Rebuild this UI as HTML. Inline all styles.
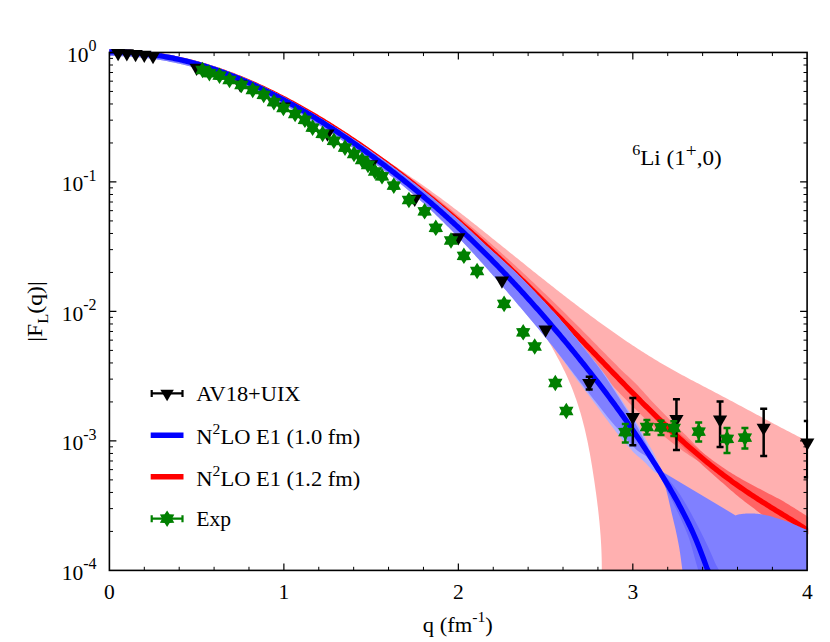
<!DOCTYPE html>
<html><head><meta charset="utf-8"><title>chart</title>
<style>html,body{margin:0;padding:0;background:#fff;}svg{display:block;}</style></head>
<body>
<svg width="830" height="642" viewBox="0 0 830 642">
<rect width="100%" height="100%" fill="#fff"/>
<defs><clipPath id="ax"><rect x="108.90" y="41.80" width="699.20" height="528.60"/></clipPath></defs>
<g clip-path="url(#ax)">
<path d="M384.58,159.41 L386.35,160.57 L388.12,161.73 L389.90,162.89 L391.67,164.05 L393.44,165.23 L395.21,166.40 L396.99,167.58 L398.76,168.76 L400.53,169.95 L402.31,171.14 L404.08,172.34 L405.85,173.54 L407.62,174.74 L409.40,175.95 L411.17,177.17 L412.94,178.39 L414.72,179.61 L416.49,180.84 L418.26,182.07 L420.03,183.31 L421.81,184.56 L423.58,185.80 L425.35,187.06 L427.13,188.32 L428.90,189.58 L430.67,190.85 L432.44,192.13 L434.22,193.41 L435.99,194.70 L437.76,195.99 L439.54,197.29 L441.31,198.60 L443.08,199.91 L444.86,201.22 L446.63,202.55 L448.40,203.87 L450.17,205.21 L451.95,206.55 L453.72,207.90 L455.49,209.25 L457.27,210.61 L459.04,211.98 L460.81,213.34 L462.58,214.72 L464.36,216.10 L466.13,217.48 L467.90,218.87 L469.68,220.26 L471.45,221.66 L473.22,223.06 L474.99,224.46 L476.77,225.87 L478.54,227.28 L480.31,228.69 L482.09,230.10 L483.86,231.52 L485.63,232.94 L487.40,234.36 L489.18,235.78 L490.95,237.20 L492.72,238.63 L494.50,240.05 L496.27,241.48 L498.04,242.90 L499.82,244.33 L501.59,245.76 L503.36,247.18 L505.13,248.61 L506.91,250.04 L508.68,251.47 L510.45,252.89 L512.23,254.32 L514.00,255.75 L515.77,257.17 L517.54,258.60 L519.32,260.02 L521.09,261.45 L522.86,262.87 L524.64,264.29 L526.41,265.71 L528.18,267.14 L529.95,268.55 L531.73,269.97 L533.50,271.39 L535.27,272.80 L537.05,274.22 L538.82,275.63 L540.59,277.04 L542.36,278.45 L544.14,279.85 L545.91,281.26 L547.68,282.66 L549.46,284.06 L551.23,285.46 L553.00,286.85 L554.78,288.24 L556.55,289.63 L558.32,291.02 L560.09,292.40 L561.87,293.79 L563.64,295.16 L565.41,296.54 L567.19,297.91 L568.96,299.28 L570.73,300.64 L572.50,302.01 L574.28,303.36 L576.05,304.72 L577.82,306.07 L579.60,307.42 L581.37,308.76 L583.14,310.10 L584.91,311.43 L586.69,312.76 L588.46,314.09 L590.23,315.41 L592.01,316.72 L593.78,318.04 L595.55,319.34 L597.32,320.64 L599.10,321.94 L600.87,323.23 L602.64,324.52 L604.42,325.80 L606.19,327.07 L607.96,328.34 L609.73,329.61 L611.51,330.86 L613.28,332.11 L615.05,333.36 L616.83,334.60 L618.60,335.83 L620.37,337.06 L622.15,338.27 L623.92,339.49 L625.69,340.69 L627.46,341.89 L629.24,343.08 L631.01,344.27 L632.78,345.44 L634.56,346.61 L636.33,347.77 L638.10,348.93 L639.87,350.07 L641.65,351.21 L643.42,352.34 L645.19,353.46 L646.97,354.58 L648.74,355.68 L650.51,356.78 L652.28,357.87 L654.06,358.95 L655.83,360.02 L657.60,361.08 L659.38,362.13 L661.15,363.17 L662.92,364.21 L664.69,365.24 L666.47,366.26 L668.24,367.27 L670.01,368.27 L671.79,369.27 L673.56,370.26 L675.33,371.24 L677.11,372.22 L678.88,373.19 L680.65,374.16 L682.42,375.13 L684.20,376.08 L685.97,377.04 L687.74,377.99 L689.52,378.93 L691.29,379.88 L693.06,380.82 L694.83,381.75 L696.61,382.69 L698.38,383.62 L700.15,384.55 L701.93,385.48 L703.70,386.41 L705.47,387.33 L707.24,388.26 L709.02,389.19 L710.79,390.12 L712.56,391.04 L714.34,391.97 L716.11,392.90 L717.88,393.83 L719.65,394.76 L721.43,395.70 L723.20,396.64 L724.97,397.58 L726.75,398.52 L728.52,399.46 L730.29,400.40 L732.07,401.35 L733.84,402.29 L735.61,403.24 L737.38,404.19 L739.16,405.14 L740.93,406.09 L742.70,407.04 L744.48,407.99 L746.25,408.95 L748.02,409.90 L749.79,410.85 L751.57,411.81 L753.34,412.76 L755.11,413.71 L756.89,414.66 L758.66,415.61 L760.43,416.56 L762.20,417.52 L763.98,418.46 L765.75,419.41 L767.52,420.36 L769.30,421.31 L771.07,422.25 L772.84,423.19 L774.61,424.14 L776.39,425.08 L778.16,426.01 L779.93,426.95 L781.71,427.88 L783.48,428.82 L785.25,429.74 L787.03,430.67 L788.80,431.59 L790.57,432.52 L792.34,433.43 L794.12,434.35 L795.89,435.26 L797.66,436.17 L799.44,437.08 L801.21,437.98 L802.98,438.88 L804.75,439.77 L806.53,440.66 L808.30,441.55 L808.30,570.40 L601.59,580.00 L601.64,578.04 L601.69,576.07 L601.73,574.11 L601.76,572.15 L601.77,570.18 L601.78,568.22 L601.78,566.26 L601.76,564.29 L601.74,562.33 L601.71,560.37 L601.67,558.40 L601.62,556.44 L601.56,554.47 L601.49,552.51 L601.42,550.55 L601.33,548.58 L601.24,546.62 L601.14,544.66 L601.03,542.69 L600.91,540.73 L600.78,538.77 L600.65,536.80 L600.51,534.84 L600.36,532.88 L600.21,530.91 L600.05,528.95 L599.88,526.99 L599.70,525.02 L599.52,523.06 L599.33,521.10 L599.13,519.13 L598.93,517.17 L598.73,515.21 L598.51,513.24 L598.29,511.28 L598.07,509.32 L597.84,507.35 L597.60,505.39 L597.36,503.42 L597.12,501.46 L596.87,499.50 L596.61,497.53 L596.35,495.57 L596.09,493.61 L595.82,491.64 L595.55,489.68 L595.27,487.72 L594.99,485.75 L594.71,483.79 L594.42,481.83 L594.13,479.86 L593.84,477.90 L593.54,475.94 L593.24,473.97 L592.93,472.01 L592.63,470.05 L592.31,468.08 L592.00,466.12 L591.68,464.16 L591.35,462.19 L591.02,460.23 L590.68,458.26 L590.34,456.30 L589.99,454.34 L589.63,452.37 L589.26,450.41 L588.89,448.45 L588.51,446.48 L588.12,444.52 L587.73,442.56 L587.32,440.59 L586.90,438.63 L586.48,436.67 L586.04,434.70 L585.60,432.74 L585.14,430.78 L584.68,428.81 L584.20,426.85 L583.71,424.89 L583.21,422.92 L582.69,420.96 L582.17,419.00 L581.63,417.03 L581.07,415.07 L580.51,413.11 L579.93,411.14 L579.33,409.18 L578.72,407.21 L578.10,405.25 L577.46,403.29 L576.80,401.32 L576.13,399.36 L575.44,397.40 L574.73,395.43 L574.01,393.47 L573.27,391.51 L572.52,389.54 L571.74,387.58 L570.95,385.62 L570.13,383.65 L569.30,381.69 L568.45,379.73 L567.58,377.76 L566.69,375.80 L565.78,373.84 L564.85,371.87 L563.90,369.91 L562.93,367.95 L561.95,365.98 L560.95,364.02 L559.94,362.05 L558.91,360.09 L557.87,358.13 L556.82,356.16 L555.76,354.20 L554.69,352.24 L553.61,350.27 L552.53,348.31 L551.43,346.35 L550.34,344.38 L549.23,342.42 L548.12,340.46 L547.01,338.49 L545.89,336.53 L544.77,334.57 L543.64,332.60 L542.50,330.64 L541.35,328.68 L540.19,326.71 L539.02,324.75 L537.84,322.79 L536.64,320.82 L535.42,318.86 L534.19,316.89 L532.94,314.93 L531.67,312.97 L530.39,311.00 L529.08,309.04 L527.74,307.08 L526.39,305.11 L525.01,303.15 L523.60,301.19 L522.17,299.22 L520.71,297.26 L519.22,295.30 L517.71,293.33 L516.17,291.37 L514.61,289.41 L513.01,287.44 L511.40,285.48 L509.76,283.52 L508.09,281.55 L506.40,279.59 L504.69,277.63 L502.95,275.66 L501.19,273.70 L499.41,271.74 L497.61,269.77 L495.79,267.81 L493.94,265.84 L492.07,263.88 L490.19,261.92 L488.28,259.95 L486.35,257.99 L484.41,256.03 L482.44,254.06 L480.46,252.10 L478.46,250.14 L476.44,248.17 L474.41,246.21 L472.35,244.25 L470.28,242.28 L468.20,240.32 L466.10,238.36 L463.98,236.39 L461.85,234.43 L459.71,232.47 L457.55,230.50 L455.37,228.54 L453.19,226.58 L450.99,224.61 L448.78,222.65 L446.55,220.68 L444.32,218.72 L442.07,216.76 L439.81,214.79 L437.55,212.83 L435.27,210.87 L432.98,208.90 L430.68,206.94 L428.38,204.98 L426.06,203.01 L423.74,201.05 L421.41,199.09 L419.07,197.12 L416.73,195.16 L414.37,193.20 L412.02,191.23 L409.65,189.27 L407.28,187.31 L404.91,185.34 L402.53,183.38 L400.15,181.42 L397.76,179.45 L395.37,177.49 L392.98,175.53 L390.58,173.56 L388.19,171.60 L385.79,169.63 L383.39,167.67 L380.98,165.71 L378.58,163.74 L376.18,161.78 L373.77,159.82 L371.37,157.85 L368.97,155.89 L366.57,153.93 L364.17,151.96 L361.78,150.00 Z" fill="#ffb0b0"/>
<path d="M109.40,51.80 L111.15,51.80 L112.91,51.80 L114.66,51.82 L116.42,51.85 L118.17,51.88 L119.93,51.93 L121.68,51.98 L123.44,52.04 L125.19,52.11 L126.95,52.20 L128.70,52.29 L130.46,52.39 L132.21,52.50 L133.97,52.62 L135.72,52.75 L137.48,52.88 L139.23,53.03 L140.99,53.19 L142.75,53.36 L144.50,53.53 L146.26,53.72 L148.02,53.91 L149.77,54.12 L151.53,54.33 L153.29,54.56 L155.04,54.79 L156.80,55.03 L158.56,55.28 L160.31,55.55 L162.07,55.82 L163.83,56.10 L165.59,56.39 L167.35,56.69 L169.10,57.00 L170.86,57.32 L172.62,57.65 L174.38,57.99 L176.14,58.34 L177.90,58.69 L179.66,59.06 L181.42,59.44 L183.18,59.83 L184.94,60.22 L186.70,60.63 L188.46,61.04 L190.22,61.47 L191.98,61.90 L193.74,62.35 L195.50,62.80 L197.26,63.26 L199.02,63.73 L200.78,64.22 L202.54,64.71 L204.31,65.21 L206.07,65.72 L207.83,66.24 L209.59,66.77 L211.35,67.30 L213.12,67.85 L214.88,68.41 L216.64,68.98 L218.41,69.55 L220.17,70.13 L221.93,70.73 L223.70,71.33 L225.46,71.94 L227.22,72.56 L228.99,73.19 L230.75,73.83 L232.52,74.48 L234.28,75.14 L236.04,75.80 L237.81,76.48 L239.57,77.16 L241.34,77.85 L243.10,78.55 L244.87,79.26 L246.64,79.98 L248.40,80.71 L250.17,81.44 L251.93,82.18 L253.70,82.94 L255.47,83.70 L257.23,84.46 L259.00,85.24 L260.77,86.03 L262.53,86.82 L264.30,87.62 L266.07,88.43 L267.83,89.25 L269.60,90.08 L271.37,90.91 L273.14,91.75 L274.90,92.60 L276.67,93.46 L278.44,94.33 L280.21,95.20 L281.98,96.08 L283.74,96.97 L285.51,97.87 L287.28,98.77 L289.05,99.68 L290.82,100.60 L292.59,101.53 L294.36,102.46 L296.13,103.40 L297.89,104.35 L299.66,105.30 L301.43,106.27 L303.20,107.24 L304.97,108.21 L306.74,109.20 L308.51,110.19 L310.28,111.19 L312.05,112.19 L313.82,113.20 L315.59,114.22 L317.36,115.25 L319.13,116.28 L320.90,117.32 L322.67,118.36 L324.44,119.41 L326.21,120.47 L327.99,121.54 L329.76,122.61 L331.53,123.69 L333.30,124.77 L335.07,125.86 L336.84,126.96 L338.61,128.06 L340.38,129.17 L342.15,130.29 L343.93,131.41 L345.70,132.54 L347.47,133.68 L349.24,134.82 L351.01,135.97 L352.78,137.12 L354.56,138.28 L356.33,139.44 L358.10,140.62 L359.87,141.79 L361.64,142.98 L363.42,144.17 L365.19,145.36 L366.96,146.56 L368.73,147.77 L370.51,148.98 L372.28,150.20 L374.05,151.43 L375.82,152.66 L377.60,153.89 L379.37,155.14 L381.14,156.38 L382.92,157.64 L384.69,158.90 L386.46,160.16 L388.24,161.43 L390.01,162.71 L391.79,163.99 L393.56,165.27 L395.34,166.57 L397.11,167.86 L398.89,169.17 L400.66,170.47 L402.44,171.79 L404.22,173.11 L405.99,174.43 L407.77,175.76 L409.55,177.09 L411.33,178.43 L413.10,179.78 L414.88,181.13 L416.66,182.49 L418.44,183.85 L420.22,185.22 L422.00,186.59 L423.78,187.97 L425.56,189.35 L427.34,190.74 L429.12,192.13 L430.90,193.53 L432.68,194.94 L434.46,196.35 L436.25,197.77 L438.03,199.19 L439.81,200.61 L441.59,202.05 L443.37,203.48 L445.16,204.93 L446.94,206.38 L448.72,207.83 L450.51,209.29 L452.29,210.76 L454.07,212.23 L455.86,213.71 L457.64,215.19 L459.43,216.67 L461.21,218.16 L463.00,219.66 L464.79,221.16 L466.58,222.67 L468.36,224.18 L470.15,225.70 L471.94,227.22 L473.73,228.75 L475.52,230.28 L477.31,231.82 L479.10,233.36 L480.89,234.91 L482.68,236.47 L484.48,238.03 L486.27,239.59 L488.06,241.16 L489.85,242.74 L491.64,244.32 L493.44,245.90 L495.23,247.50 L497.02,249.09 L498.81,250.70 L500.61,252.30 L502.40,253.92 L504.19,255.53 L505.99,257.16 L507.78,258.79 L509.57,260.42 L511.36,262.06 L513.16,263.70 L514.95,265.35 L516.74,267.01 L518.53,268.67 L520.32,270.33 L522.12,272.00 L523.91,273.68 L525.70,275.36 L527.49,277.04 L529.28,278.73 L531.07,280.43 L532.87,282.12 L534.66,283.82 L536.45,285.53 L538.24,287.24 L540.04,288.95 L541.83,290.67 L543.62,292.39 L545.42,294.12 L547.21,295.85 L549.00,297.58 L550.79,299.32 L552.58,301.06 L554.38,302.81 L556.17,304.55 L557.96,306.31 L559.75,308.06 L561.54,309.82 L563.33,311.58 L565.12,313.35 L566.91,315.12 L568.70,316.89 L570.48,318.66 L572.27,320.44 L574.05,322.22 L575.84,324.00 L577.62,325.79 L579.41,327.57 L581.19,329.36 L582.97,331.16 L584.75,332.95 L586.53,334.75 L588.30,336.55 L590.08,338.36 L591.85,340.16 L593.62,341.97 L595.39,343.77 L597.17,345.58 L598.94,347.38 L600.71,349.19 L602.48,351.00 L604.25,352.80 L606.03,354.60 L607.80,356.40 L609.58,358.20 L611.35,360.00 L613.13,361.79 L614.91,363.58 L616.69,365.37 L618.47,367.15 L620.26,368.92 L622.05,370.69 L623.87,372.43 L625.71,374.15 L627.55,375.86 L629.39,377.57 L631.22,379.28 L633.03,381.00 L634.83,382.74 L636.58,384.52 L638.31,386.31 L640.01,388.13 L641.70,389.96 L643.36,391.80 L645.02,393.65 L646.67,395.50 L648.32,397.34 L649.97,399.18 L651.63,401.00 L653.30,402.81 L654.99,404.59 L656.69,406.35 L658.39,408.11 L660.10,409.85 L661.80,411.59 L663.51,413.32 L665.22,415.03 L666.94,416.74 L668.65,418.44 L670.36,420.13 L672.07,421.82 L673.78,423.49 L675.49,425.17 L677.19,426.83 L678.89,428.50 L680.58,430.15 L682.27,431.81 L683.96,433.46 L685.63,435.11 L687.29,436.77 L688.93,438.44 L690.56,440.11 L692.19,441.79 L693.80,443.46 L695.40,445.14 L697.00,446.81 L698.60,448.48 L700.20,450.14 L701.80,451.78 L703.39,453.42 L704.96,455.10 L706.49,456.80 L708.02,458.50 L709.55,460.18 L711.12,461.81 L712.75,463.37 L714.44,464.83 L716.19,466.21 L717.93,467.58 L719.68,468.94 L721.42,470.29 L723.17,471.63 L724.92,472.95 L726.66,474.27 L728.41,475.57 L730.15,476.86 L731.90,478.14 L733.64,479.41 L735.39,480.67 L737.13,481.92 L738.88,483.15 L740.62,484.38 L742.37,485.59 L744.12,486.80 L745.86,487.99 L747.61,489.18 L749.35,490.35 L751.10,491.52 L752.85,492.68 L754.59,493.83 L756.34,494.97 L758.09,496.10 L759.83,497.23 L761.58,498.34 L763.33,499.46 L765.08,500.56 L766.83,501.66 L768.58,502.76 L770.33,503.85 L772.08,504.93 L773.83,506.02 L775.58,507.10 L777.33,508.17 L779.09,509.25 L780.84,510.33 L782.59,511.40 L784.35,512.48 L786.10,513.56 L787.86,514.64 L789.62,515.72 L791.38,516.81 L793.13,517.90 L794.89,519.00 L796.66,520.11 L798.42,521.23 L800.18,522.36 L801.94,523.49 L803.71,524.64 L805.47,525.80 L807.56,527.23 L809.60,529.63 L811.40,532.11 L807.20,535.17 L805.50,532.82 L804.02,531.05 L802.60,530.14 L800.86,528.99 L799.12,527.86 L797.37,526.73 L795.63,525.62 L793.88,524.51 L792.13,523.41 L790.38,522.32 L788.63,521.23 L786.88,520.14 L785.13,519.06 L783.38,517.99 L781.63,516.91 L779.87,515.83 L778.12,514.76 L776.37,513.68 L774.61,512.60 L772.85,511.52 L771.10,510.44 L769.34,509.35 L767.58,508.26 L765.82,507.17 L764.06,506.07 L762.31,504.96 L760.55,503.85 L758.79,502.73 L757.03,501.60 L755.26,500.47 L753.50,499.33 L751.74,498.18 L749.98,497.02 L748.22,495.85 L746.46,494.67 L744.69,493.49 L742.93,492.29 L741.17,491.08 L739.41,489.87 L737.64,488.64 L735.88,487.40 L734.12,486.15 L732.36,484.89 L730.59,483.62 L728.83,482.34 L727.07,481.05 L725.30,479.74 L723.54,478.43 L721.78,477.10 L720.02,475.76 L718.25,474.41 L716.49,473.05 L714.73,471.68 L712.97,470.29 L711.20,468.90 L709.38,467.57 L707.46,466.34 L705.48,465.17 L703.46,464.04 L701.42,462.92 L699.39,461.77 L697.39,460.57 L695.43,459.30 L693.47,458.03 L691.50,456.74 L689.54,455.43 L687.58,454.12 L685.62,452.78 L683.67,451.43 L681.73,450.05 L679.80,448.65 L677.87,447.23 L675.97,445.78 L674.07,444.31 L672.18,442.82 L670.28,441.33 L668.39,439.82 L666.50,438.31 L664.61,436.77 L662.74,435.22 L660.88,433.65 L659.03,432.05 L657.20,430.42 L655.39,428.77 L653.61,427.09 L651.84,425.38 L650.07,423.66 L648.30,421.94 L646.53,420.21 L644.77,418.48 L643.00,416.74 L641.24,414.99 L639.47,413.24 L637.70,411.49 L635.94,409.72 L634.18,407.96 L632.41,406.19 L630.65,404.41 L628.89,402.63 L627.12,400.85 L625.36,399.06 L623.60,397.27 L621.84,395.47 L620.09,393.67 L618.34,391.85 L616.60,390.03 L614.86,388.20 L613.13,386.37 L611.41,384.53 L609.68,382.68 L607.97,380.83 L606.25,378.97 L604.54,377.10 L602.83,375.24 L601.13,373.37 L599.43,371.49 L597.73,369.62 L596.03,367.74 L594.33,365.86 L592.64,363.98 L590.95,362.10 L589.25,360.22 L587.56,358.33 L585.87,356.45 L584.17,354.57 L582.48,352.69 L580.79,350.82 L579.09,348.94 L577.39,347.07 L575.70,345.20 L573.99,343.34 L572.29,341.48 L570.58,339.62 L568.88,337.77 L567.17,335.92 L565.46,334.08 L563.75,332.23 L562.04,330.39 L560.33,328.55 L558.62,326.72 L556.91,324.88 L555.20,323.05 L553.49,321.22 L551.78,319.40 L550.07,317.58 L548.36,315.76 L546.65,313.95 L544.94,312.14 L543.23,310.33 L541.51,308.53 L539.80,306.73 L538.09,304.93 L536.38,303.14 L534.67,301.36 L532.96,299.57 L531.25,297.80 L529.53,296.02 L527.82,294.25 L526.11,292.49 L524.40,290.73 L522.68,288.97 L520.97,287.22 L519.26,285.47 L517.54,283.73 L515.83,281.99 L514.11,280.26 L512.40,278.54 L510.69,276.81 L508.97,275.10 L507.26,273.38 L505.54,271.67 L503.83,269.97 L502.11,268.27 L500.40,266.58 L498.69,264.89 L496.97,263.21 L495.25,261.54 L493.54,259.86 L491.82,258.20 L490.11,256.54 L488.39,254.88 L486.68,253.23 L484.96,251.59 L483.24,249.95 L481.53,248.31 L479.81,246.69 L478.09,245.06 L476.37,243.45 L474.66,241.84 L472.94,240.23 L471.22,238.63 L469.50,237.04 L467.78,235.45 L466.06,233.87 L464.34,232.29 L462.62,230.72 L460.90,229.15 L459.18,227.59 L457.45,226.04 L455.73,224.49 L454.01,222.95 L452.29,221.41 L450.56,219.88 L448.84,218.36 L447.11,216.84 L445.39,215.33 L443.67,213.82 L441.94,212.32 L440.21,210.83 L438.49,209.34 L436.76,207.85 L435.04,206.38 L433.31,204.90 L431.58,203.44 L429.86,201.98 L428.13,200.52 L426.40,199.07 L424.68,197.63 L422.95,196.19 L421.22,194.76 L419.49,193.33 L417.76,191.91 L416.04,190.49 L414.31,189.08 L412.58,187.68 L410.85,186.28 L409.12,184.89 L407.39,183.50 L405.66,182.12 L403.93,180.75 L402.20,179.38 L400.46,178.02 L398.73,176.66 L397.00,175.31 L395.27,173.96 L393.54,172.62 L391.80,171.29 L390.07,169.96 L388.34,168.64 L386.60,167.32 L384.87,166.01 L383.14,164.71 L381.40,163.41 L379.67,162.12 L377.93,160.83 L376.20,159.55 L374.46,158.28 L372.72,157.01 L370.99,155.75 L369.25,154.49 L367.52,153.24 L365.78,151.99 L364.05,150.75 L362.31,149.52 L360.57,148.29 L358.84,147.07 L357.10,145.85 L355.37,144.64 L353.63,143.44 L351.89,142.24 L350.16,141.05 L348.42,139.86 L346.68,138.68 L344.95,137.51 L343.21,136.34 L341.47,135.18 L339.74,134.02 L338.00,132.87 L336.26,131.73 L334.53,130.59 L332.79,129.46 L331.05,128.34 L329.32,127.22 L327.58,126.11 L325.84,125.00 L324.10,123.91 L322.37,122.81 L320.63,121.73 L318.89,120.65 L317.15,119.58 L315.41,118.51 L313.68,117.46 L311.94,116.40 L310.20,115.36 L308.46,114.32 L306.72,113.29 L304.98,112.27 L303.25,111.25 L301.51,110.24 L299.77,109.24 L298.03,108.24 L296.29,107.25 L294.55,106.27 L292.81,105.30 L291.07,104.33 L289.33,103.37 L287.59,102.42 L285.85,101.48 L284.11,100.54 L282.38,99.61 L280.64,98.69 L278.89,97.78 L277.15,96.87 L275.41,95.97 L273.67,95.08 L271.93,94.20 L270.19,93.32 L268.45,92.46 L266.71,91.60 L264.97,90.75 L263.23,89.91 L261.49,89.07 L259.75,88.25 L258.00,87.43 L256.26,86.62 L254.52,85.82 L252.78,85.03 L251.04,84.24 L249.29,83.47 L247.55,82.70 L245.81,81.94 L244.07,81.19 L242.32,80.45 L240.58,79.72 L238.84,79.00 L237.09,78.28 L235.35,77.58 L233.61,76.88 L231.86,76.19 L230.12,75.51 L228.38,74.84 L226.63,74.18 L224.89,73.53 L223.14,72.89 L221.40,72.26 L219.65,71.63 L217.91,71.02 L216.16,70.41 L214.42,69.82 L212.67,69.23 L210.93,68.65 L209.18,68.09 L207.43,67.53 L205.69,66.98 L203.94,66.44 L202.19,65.91 L200.45,65.39 L198.70,64.88 L196.95,64.38 L195.21,63.89 L193.46,63.41 L191.71,62.93 L189.96,62.47 L188.22,62.02 L186.47,61.58 L184.72,61.14 L182.97,60.72 L181.22,60.31 L179.47,59.90 L177.72,59.51 L175.97,59.12 L174.23,58.75 L172.48,58.38 L170.73,58.03 L168.98,57.68 L167.23,57.35 L165.48,57.02 L163.73,56.71 L161.98,56.40 L160.23,56.11 L158.47,55.82 L156.72,55.55 L154.97,55.28 L153.22,55.02 L151.47,54.78 L149.72,54.54 L147.97,54.31 L146.22,54.10 L144.46,53.89 L142.71,53.69 L140.96,53.50 L139.21,53.33 L137.45,53.16 L135.70,53.00 L133.95,52.85 L132.20,52.71 L130.44,52.59 L128.69,52.47 L126.94,52.36 L125.18,52.26 L123.43,52.17 L121.68,52.09 L119.92,52.02 L118.17,51.96 L116.42,51.91 L114.66,51.87 L112.91,51.83 L111.15,51.81 L109.40,51.80 Z" fill="#ff8080"/>
<path d="M640.91,397.74 L642.67,399.49 L644.44,401.23 L646.20,402.96 L647.97,404.69 L649.73,406.41 L651.50,408.13 L653.27,409.84 L655.05,411.52 L656.83,413.20 L658.63,414.85 L660.43,416.50 L662.24,418.13 L664.05,419.74 L665.87,421.35 L667.69,422.94 L669.51,424.52 L671.33,426.10 L673.15,427.66 L674.96,429.22 L676.77,430.78 L678.58,432.33 L680.38,433.87 L682.18,435.41 L683.96,436.95 L685.75,438.49 L687.53,440.01 L689.30,441.53 L691.08,443.04 L692.85,444.54 L694.63,446.03 L696.40,447.51 L698.18,448.97 L699.96,450.42 L701.73,451.86 L703.52,453.28 L705.30,454.68 L707.09,456.08 L708.88,457.45 L710.67,458.81 L712.46,460.16 L714.25,461.49 L716.05,462.80 L717.86,464.09 L719.67,465.37 L721.48,466.62 L723.30,467.85 L725.12,469.07 L726.95,470.27 L728.77,471.45 L730.61,472.61 L732.44,473.75 L734.29,474.87 L736.14,475.96 L738.00,477.03 L739.85,478.09 L741.71,479.14 L743.56,480.18 L745.40,481.22 L747.25,482.24 L749.10,483.24 L750.95,484.23 L752.80,485.22 L754.64,486.20 L756.48,487.17 L758.32,488.14 L760.15,489.11 L761.98,490.08 L763.80,491.05 L765.62,492.01 L767.45,492.96 L769.28,493.90 L771.11,494.84 L772.94,495.77 L774.76,496.71 L776.58,497.66 L778.40,498.62 L780.20,499.59 L782.00,500.59 L783.78,501.61 L785.54,502.65 L787.30,503.73 L789.06,504.81 L790.82,505.89 L792.58,506.98 L794.35,508.07 L796.11,509.18 L797.88,510.29 L799.66,511.41 L801.43,512.55 L803.21,513.70 L804.98,514.87 L806.76,516.06 L808.54,517.26 L810.32,518.49 L813.49,520.84 L816.43,524.29 L818.36,527.05 L800.00,540.40 L798.48,538.30 L797.97,537.57 L797.69,537.56 L795.98,536.44 L794.28,535.33 L792.56,534.22 L790.85,533.12 L789.13,532.03 L787.40,530.95 L785.67,529.87 L783.94,528.79 L782.20,527.71 L780.46,526.64 L778.72,525.57 L776.97,524.49 L775.22,523.42 L773.47,522.34 L771.72,521.24 L769.99,520.11 L768.27,518.96 L766.56,517.78 L764.86,516.58 L763.17,515.37 L761.47,514.14 L759.78,512.89 L758.09,511.64 L756.40,510.38 L754.71,509.12 L753.01,507.86 L751.31,506.59 L749.61,505.31 L747.91,504.02 L746.21,502.72 L744.52,501.40 L742.83,500.07 L741.15,498.73 L739.46,497.38 L737.78,496.01 L736.10,494.63 L734.43,493.24 L732.76,491.83 L731.10,490.40 L729.44,488.95 L727.79,487.50 L726.14,486.03 L724.48,484.57 L722.81,483.10 L721.13,481.64 L719.46,480.17 L717.78,478.70 L716.10,477.22 L714.41,475.73 L712.73,474.24 L711.04,472.74 L709.34,471.23 L707.65,469.72 L705.95,468.20 L704.26,466.68 L702.56,465.14 L700.85,463.61 L699.15,462.06 L697.44,460.51 L695.72,458.95 L694.01,457.39 L692.29,455.82 L690.57,454.24 L688.85,452.66 L687.13,451.07 L685.40,449.46 L683.68,447.85 L681.96,446.23 L680.24,444.60 L678.53,442.95 L676.81,441.30 L675.11,439.63 L673.41,437.94 L671.71,436.24 L670.01,434.53 L668.32,432.82 L666.63,431.09 L664.94,429.35 L663.25,427.61 L661.56,425.86 L659.86,424.11 L658.17,422.35 L656.46,420.60 L654.76,418.84 L653.04,417.08 L651.32,415.33 L649.59,413.57 L647.85,411.82 L646.11,410.07 L644.36,408.32 L642.62,406.55 L640.88,404.79 Z" fill="#ff6464"/>
<path d="M109.40,51.80 L111.15,51.80 L112.91,51.82 L114.66,51.84 L116.42,51.88 L118.17,51.92 L119.92,51.97 L121.68,52.03 L123.43,52.10 L125.19,52.19 L126.94,52.28 L128.70,52.38 L130.45,52.49 L132.20,52.61 L133.96,52.73 L135.71,52.87 L137.47,53.02 L139.22,53.18 L140.97,53.35 L142.73,53.52 L144.48,53.71 L146.24,53.91 L147.99,54.11 L149.75,54.33 L151.50,54.55 L153.25,54.79 L155.01,55.03 L156.76,55.29 L158.52,55.55 L160.27,55.83 L162.02,56.11 L163.78,56.40 L165.53,56.71 L167.29,57.02 L169.04,57.34 L170.79,57.67 L172.55,58.02 L174.30,58.37 L176.06,58.73 L177.81,59.10 L179.57,59.48 L181.32,59.87 L183.07,60.27 L184.83,60.68 L186.58,61.10 L188.34,61.53 L190.09,61.97 L191.84,62.42 L193.60,62.88 L195.35,63.34 L197.11,63.82 L198.86,64.31 L200.62,64.80 L202.37,65.31 L204.12,65.82 L205.88,66.35 L207.63,66.88 L209.39,67.43 L211.14,67.98 L212.89,68.54 L214.65,69.11 L216.40,69.69 L218.16,70.28 L219.91,70.88 L221.66,71.49 L223.42,72.11 L225.17,72.74 L226.93,73.37 L228.68,74.02 L230.44,74.67 L232.19,75.34 L233.94,76.01 L235.70,76.69 L237.45,77.38 L239.21,78.08 L240.96,78.79 L242.71,79.50 L244.47,80.23 L246.22,80.96 L247.98,81.70 L249.73,82.45 L251.48,83.21 L253.24,83.98 L254.99,84.76 L256.75,85.54 L258.50,86.34 L260.26,87.14 L262.01,87.95 L263.76,88.76 L265.52,89.59 L267.27,90.42 L269.03,91.27 L270.78,92.12 L272.53,92.98 L274.29,93.84 L276.04,94.72 L277.80,95.60 L279.55,96.49 L281.31,97.38 L283.06,98.29 L284.81,99.20 L286.57,100.12 L288.32,101.05 L290.08,101.99 L291.83,102.93 L293.58,103.88 L295.34,104.84 L297.09,105.80 L298.85,106.77 L300.60,107.75 L302.35,108.74 L304.11,109.73 L305.86,110.73 L307.62,111.74 L309.37,112.75 L311.13,113.77 L312.88,114.80 L314.63,115.84 L316.39,116.88 L318.14,117.93 L319.90,118.98 L321.65,120.05 L323.40,121.11 L325.16,122.19 L326.91,123.27 L328.67,124.36 L330.42,125.45 L332.18,126.56 L333.93,127.66 L335.68,128.78 L337.44,129.90 L339.19,131.02 L340.95,132.16 L342.70,133.30 L344.45,134.44 L346.21,135.59 L347.96,136.75 L349.72,137.91 L351.47,139.08 L353.22,140.26 L354.98,141.44 L356.73,142.63 L358.49,143.82 L360.24,145.02 L362.00,146.23 L363.75,147.44 L365.50,148.66 L367.26,149.88 L369.01,151.11 L370.77,152.35 L372.52,153.59 L374.27,154.83 L376.03,156.09 L377.78,157.34 L379.54,158.61 L381.29,159.88 L383.05,161.15 L384.80,162.44 L386.55,163.72 L388.31,165.02 L390.06,166.31 L391.82,167.62 L393.57,168.93 L395.32,170.24 L397.08,171.56 L398.83,172.89 L400.59,174.22 L402.34,175.56 L404.09,176.90 L405.85,178.25 L407.60,179.61 L409.36,180.97 L411.11,182.33 L412.87,183.71 L414.62,185.08 L416.37,186.47 L418.13,187.85 L419.88,189.25 L421.64,190.65 L423.39,192.05 L425.14,193.46 L426.90,194.88 L428.65,196.30 L430.41,197.73 L432.16,199.16 L433.92,200.60 L435.67,202.05 L437.42,203.49 L439.18,204.95 L440.93,206.41 L442.69,207.88 L444.44,209.35 L446.19,210.83 L447.95,212.31 L449.70,213.80 L451.46,215.30 L453.21,216.80 L454.96,218.30 L456.72,219.81 L458.47,221.33 L460.23,222.85 L461.98,224.38 L463.74,225.91 L465.49,227.45 L467.24,229.00 L469.00,230.55 L470.75,232.10 L472.51,233.66 L474.26,235.23 L476.01,236.80 L477.77,238.38 L479.52,239.96 L481.28,241.55 L483.03,243.15 L484.78,244.75 L486.54,246.35 L488.29,247.96 L490.05,249.58 L491.80,251.20 L493.56,252.83 L495.31,254.46 L497.06,256.09 L498.82,257.74 L500.57,259.38 L502.33,261.04 L504.08,262.69 L505.83,264.36 L507.59,266.02 L509.34,267.70 L511.10,269.37 L512.85,271.06 L514.61,272.75 L516.36,274.44 L518.11,276.14 L519.87,277.84 L521.62,279.54 L523.38,281.26 L525.13,282.97 L526.88,284.69 L528.64,286.42 L530.39,288.15 L532.15,289.88 L533.90,291.62 L535.65,293.36 L537.41,295.11 L539.16,296.86 L540.92,298.61 L542.67,300.37 L544.43,302.13 L546.18,303.90 L547.93,305.67 L549.69,307.44 L551.44,309.22 L553.20,311.00 L554.95,312.78 L556.70,314.57 L558.46,316.35 L560.21,318.15 L561.97,319.94 L563.72,321.74 L565.48,323.54 L567.23,325.34 L568.98,327.14 L570.74,328.95 L572.49,330.76 L574.25,332.57 L576.00,334.38 L577.75,336.20 L579.51,338.01 L581.26,339.83 L583.02,341.65 L584.77,343.47 L586.52,345.29 L588.28,347.11 L590.03,348.93 L591.79,350.76 L593.54,352.58 L595.30,354.40 L597.05,356.22 L598.80,358.05 L600.56,359.87 L602.31,361.69 L604.07,363.51 L605.82,365.33 L607.57,367.15 L609.33,368.97 L611.08,370.78 L612.84,372.60 L614.59,374.41 L616.35,376.22 L618.10,378.03 L619.85,379.84 L621.61,381.64 L623.36,383.44 L625.12,385.24 L626.87,387.03 L628.62,388.82 L630.38,390.61 L632.13,392.40 L633.89,394.18 L635.64,395.95 L637.39,397.72 L639.15,399.49 L640.90,401.25 L642.66,403.01 L644.41,404.76 L646.17,406.50 L647.92,408.24 L649.67,409.98 L651.43,411.70 L653.18,413.43 L654.94,415.14 L656.69,416.85 L658.44,418.55 L660.20,420.25 L661.95,421.93 L663.71,423.61 L665.46,425.28 L667.22,426.95 L668.97,428.60 L670.72,430.25 L672.48,431.89 L674.23,433.52 L675.99,435.14 L677.74,436.75 L679.49,438.36 L681.25,439.95 L683.00,441.53 L684.76,443.11 L686.51,444.67 L688.26,446.23 L690.02,447.77 L691.77,449.30 L693.53,450.83 L695.28,452.34 L697.04,453.84 L698.79,455.33 L700.54,456.81 L702.30,458.28 L704.05,459.74 L705.81,461.19 L707.56,462.62 L709.31,464.05 L711.07,465.46 L712.82,466.86 L714.58,468.25 L716.33,469.63 L718.08,471.00 L719.84,472.35 L721.59,473.70 L723.35,475.03 L725.10,476.35 L726.86,477.66 L728.61,478.95 L730.36,480.24 L732.12,481.52 L733.87,482.78 L735.63,484.03 L737.38,485.28 L739.13,486.51 L740.89,487.73 L742.64,488.94 L744.40,490.14 L746.15,491.33 L747.91,492.51 L749.66,493.68 L751.41,494.85 L753.17,496.00 L754.92,497.15 L756.68,498.28 L758.43,499.41 L760.18,500.54 L761.94,501.65 L763.69,502.76 L765.45,503.86 L767.20,504.96 L768.95,506.05 L770.71,507.14 L772.46,508.23 L774.22,509.31 L775.97,510.39 L777.73,511.47 L779.48,512.54 L781.23,513.62 L782.99,514.69 L784.74,515.77 L786.50,516.85 L788.25,517.93 L790.00,519.02 L791.76,520.11 L793.51,521.21 L795.27,522.31 L797.02,523.42 L798.78,524.54 L800.53,525.67 L802.28,526.82 L804.04,527.97 L805.79,529.14 L807.55,531.23 L809.30,533.64" fill="none" stroke="#f00" stroke-width="5.3"/>
<path d="M109.41,49.20 L110.93,49.20 L112.47,49.21 L114.00,49.23 L115.53,49.26 L117.06,49.29 L118.60,49.33 L120.13,49.38 L121.66,49.43 L123.19,49.50 L124.73,49.56 L126.26,49.64 L127.79,49.72 L129.32,49.82 L130.86,49.91 L132.39,50.02 L133.92,50.13 L135.45,50.25 L136.99,50.38 L138.52,50.51 L140.05,50.66 L141.59,50.81 L143.12,50.96 L144.65,51.13 L146.18,51.30 L147.72,51.48 L149.25,51.67 L150.78,51.86 L152.31,52.06 L153.85,52.27 L155.38,52.49 L156.91,52.71 L158.44,52.94 L159.98,53.18 L161.51,53.43 L163.04,53.68 L164.57,53.94 L166.11,54.21 L167.64,54.49 L169.17,54.78 L170.71,55.07 L172.24,55.37 L173.77,55.68 L175.30,55.99 L176.84,56.31 L178.37,56.64 L179.90,56.98 L181.43,57.33 L182.96,57.68 L184.50,58.04 L186.03,58.41 L187.56,58.79 L189.09,59.17 L190.63,59.56 L192.16,59.96 L193.69,60.37 L195.22,60.78 L196.75,61.20 L198.28,61.63 L199.82,62.07 L201.35,62.51 L202.88,62.97 L204.41,63.42 L205.94,63.89 L207.47,64.37 L209.01,64.85 L210.54,65.34 L212.07,65.83 L213.60,66.34 L215.13,66.85 L216.66,67.37 L218.19,67.90 L219.72,68.43 L221.25,68.97 L222.78,69.52 L224.31,70.08 L225.85,70.64 L227.38,71.21 L228.91,71.79 L230.44,72.37 L231.97,72.96 L233.50,73.56 L235.03,74.16 L236.56,74.78 L238.09,75.40 L239.62,76.02 L241.15,76.66 L242.67,77.30 L244.20,77.94 L245.73,78.60 L247.26,79.26 L248.79,79.93 L250.32,80.60 L251.85,81.28 L253.38,81.97 L254.91,82.66 L256.44,83.36 L257.96,84.07 L259.49,84.78 L261.02,85.50 L262.55,86.23 L264.08,86.96 L265.61,87.70 L267.13,88.45 L268.66,89.20 L270.19,89.95 L271.72,90.72 L273.25,91.49 L274.77,92.26 L276.30,93.05 L277.83,93.83 L279.36,94.63 L280.88,95.43 L282.41,96.23 L283.94,97.05 L285.47,97.86 L286.99,98.69 L288.52,99.52 L290.05,100.35 L291.57,101.19 L293.10,102.04 L294.63,102.89 L296.15,103.75 L297.68,104.61 L299.21,105.48 L300.73,106.35 L302.26,107.23 L303.79,108.11 L305.31,109.00 L306.84,109.89 L308.37,110.79 L309.90,111.68 L311.44,112.59 L312.97,113.49 L314.50,114.40 L316.03,115.32 L317.57,116.24 L319.10,117.16 L320.64,118.09 L322.17,119.02 L323.71,119.96 L325.24,120.90 L326.78,121.85 L328.32,122.80 L329.85,123.76 L331.39,124.72 L332.93,125.68 L334.47,126.65 L336.00,127.63 L337.54,128.61 L339.08,129.60 L340.61,130.59 L342.15,131.58 L343.69,132.58 L345.23,133.59 L346.76,134.60 L348.30,135.61 L349.84,136.63 L351.38,137.65 L352.92,138.68 L354.46,139.71 L356.00,140.75 L357.54,141.79 L359.08,142.83 L360.62,143.88 L362.17,144.94 L363.71,145.99 L365.25,147.06 L366.79,148.12 L368.34,149.20 L369.88,150.27 L371.42,151.35 L372.97,152.44 L374.51,153.53 L376.05,154.63 L377.60,155.73 L379.14,156.83 L380.69,157.95 L382.23,159.06 L383.77,160.18 L385.32,161.31 L386.86,162.44 L388.41,163.57 L389.96,164.71 L391.50,165.86 L393.05,167.00 L394.59,168.16 L396.14,169.32 L397.69,170.48 L399.24,171.65 L400.78,172.82 L402.33,174.00 L403.88,175.18 L405.43,176.37 L406.98,177.57 L408.53,178.76 L410.08,179.97 L411.63,181.18 L413.18,182.39 L414.73,183.61 L416.28,184.83 L417.83,186.06 L419.38,187.29 L420.93,188.53 L422.48,189.78 L424.04,191.03 L425.59,192.28 L427.14,193.54 L428.70,194.80 L430.25,196.07 L431.81,197.34 L433.37,198.62 L434.92,199.91 L436.48,201.20 L438.04,202.49 L439.60,203.79 L441.15,205.10 L442.71,206.41 L444.27,207.72 L445.83,209.05 L447.39,210.38 L448.95,211.71 L450.51,213.05 L452.06,214.40 L453.62,215.75 L455.18,217.11 L456.73,218.48 L458.29,219.86 L459.85,221.24 L461.40,222.62 L462.95,224.02 L464.50,225.42 L466.05,226.83 L467.60,228.25 L469.15,229.67 L470.70,231.10 L472.25,232.53 L473.80,233.97 L475.36,235.42 L476.91,236.86 L478.47,238.32 L480.02,239.77 L481.58,241.23 L483.15,242.70 L484.72,244.16 L486.29,245.63 L487.88,247.08 L489.47,248.54 L491.08,249.99 L492.69,251.45 L494.30,252.90 L495.93,254.36 L497.56,255.81 L499.19,257.27 L500.82,258.74 L502.45,260.21 L504.09,261.68 L505.72,263.17 L507.36,264.66 L508.99,266.16 L510.61,267.67 L512.23,269.20 L513.85,270.73 L515.45,272.28 L517.05,273.84 L518.64,275.42 L520.23,277.01 L521.81,278.60 L523.40,280.20 L524.99,281.81 L526.58,283.42 L528.16,285.04 L529.75,286.66 L531.33,288.29 L532.92,289.93 L534.50,291.58 L536.09,293.23 L537.67,294.89 L539.25,296.55 L540.84,298.22 L542.42,299.90 L543.99,301.59 L545.57,303.28 L547.15,304.98 L548.72,306.69 L550.29,308.41 L551.86,310.13 L553.43,311.87 L555.00,313.61 L556.56,315.35 L558.12,317.11 L559.68,318.87 L561.23,320.65 L562.79,322.43 L564.34,324.22 L565.88,326.01 L567.43,327.82 L568.97,329.64 L570.50,331.46 L572.04,333.30 L573.57,335.14 L575.10,336.98 L576.63,338.84 L578.16,340.70 L579.69,342.56 L581.23,344.44 L582.76,346.32 L584.29,348.20 L585.82,350.09 L587.35,351.99 L588.88,353.90 L590.41,355.81 L591.95,357.73 L593.48,359.65 L595.01,361.58 L596.54,363.52 L598.07,365.47 L599.60,367.42 L601.14,369.39 L602.64,371.38 L604.12,373.40 L605.57,375.44 L606.99,377.52 L608.40,379.61 L609.80,381.73 L611.19,383.85 L612.57,385.99 L613.95,388.14 L615.34,390.29 L616.73,392.44 L618.14,394.59 L619.56,396.75 L620.96,398.92 L622.37,401.10 L623.79,403.29 L625.22,405.47 L626.66,407.66 L628.11,409.85 L629.56,412.05 L631.02,414.26 L632.47,416.49 L633.92,418.73 L635.36,420.99 L636.78,423.27 L638.18,425.59 L639.53,427.95 L640.84,430.35 L642.14,432.76 L643.47,435.18 L644.82,437.60 L646.17,440.02 L647.54,442.46 L648.92,444.90 L650.31,447.36 L651.70,449.83 L653.08,452.32 L654.43,454.85 L655.72,457.39 L656.97,459.95 L658.21,462.53 L659.46,465.10 L660.69,467.69 L661.93,470.29 L656.68,473.60 L654.23,471.77 L652.06,469.79 L650.01,467.73 L648.03,465.63 L646.04,463.52 L643.96,461.47 L641.77,459.50 L639.53,457.62 L637.29,455.76 L635.14,453.86 L633.16,451.88 L631.30,449.84 L629.46,447.81 L627.65,445.78 L625.86,443.74 L624.10,441.71 L622.36,439.67 L620.67,437.63 L619.00,435.57 L617.37,433.51 L615.78,431.43 L614.20,429.36 L612.63,427.29 L611.07,425.23 L609.51,423.17 L607.97,421.12 L606.43,419.07 L604.90,417.03 L603.39,414.98 L601.89,412.93 L600.39,410.90 L598.90,408.87 L597.40,406.84 L595.91,404.83 L594.41,402.82 L592.92,400.82 L591.43,398.83 L589.94,396.84 L588.45,394.86 L586.97,392.89 L585.48,390.92 L583.99,388.97 L582.51,387.01 L581.02,385.07 L579.54,383.12 L578.08,381.17 L576.63,379.22 L575.20,377.26 L573.78,375.29 L572.37,373.32 L570.97,371.36 L569.58,369.39 L568.19,367.42 L566.80,365.46 L565.41,363.51 L564.03,361.56 L562.64,359.61 L561.24,357.68 L559.84,355.76 L558.43,353.85 L557.01,351.95 L555.58,350.07 L554.14,348.21 L552.68,346.36 L551.22,344.52 L549.76,342.68 L548.30,340.86 L546.83,339.04 L545.36,337.23 L543.89,335.43 L542.42,333.64 L540.94,331.85 L539.47,330.07 L537.99,328.29 L536.52,326.52 L535.04,324.76 L533.57,323.00 L532.09,321.25 L530.62,319.50 L529.15,317.76 L527.68,316.02 L526.21,314.28 L524.75,312.55 L523.29,310.82 L521.83,309.09 L520.37,307.37 L518.92,305.65 L517.47,303.94 L516.02,302.22 L514.57,300.51 L513.13,298.81 L511.68,297.11 L510.24,295.41 L508.80,293.72 L507.36,292.03 L505.93,290.35 L504.49,288.67 L503.06,286.99 L501.62,285.32 L500.19,283.66 L498.76,282.00 L497.33,280.34 L495.90,278.69 L494.47,277.04 L493.04,275.40 L491.61,273.77 L490.18,272.14 L488.75,270.51 L487.32,268.89 L485.89,267.28 L484.46,265.67 L483.03,264.07 L481.60,262.47 L480.17,260.88 L478.74,259.30 L477.31,257.72 L475.87,256.15 L474.44,254.59 L473.00,253.03 L471.57,251.47 L470.14,249.92 L468.71,248.37 L467.28,246.83 L465.85,245.29 L464.42,243.76 L463.00,242.23 L461.57,240.71 L460.14,239.20 L458.70,237.69 L457.27,236.19 L455.83,234.69 L454.39,233.21 L452.95,231.73 L451.51,230.26 L450.06,228.80 L448.61,227.35 L447.16,225.90 L445.72,224.46 L444.27,223.02 L442.82,221.59 L441.37,220.16 L439.92,218.74 L438.47,217.32 L437.01,215.92 L435.56,214.51 L434.10,213.12 L432.65,211.73 L431.19,210.35 L429.73,208.98 L428.26,207.62 L426.80,206.26 L425.33,204.91 L423.85,203.57 L422.38,202.24 L420.90,200.92 L419.42,199.61 L417.93,198.31 L416.44,197.01 L414.95,195.73 L413.45,194.45 L411.96,193.17 L410.47,191.90 L408.98,190.64 L407.48,189.38 L405.99,188.13 L404.49,186.88 L402.99,185.64 L401.50,184.41 L400.00,183.18 L398.50,181.96 L397.00,180.74 L395.50,179.53 L394.00,178.32 L392.50,177.12 L391.00,175.93 L389.50,174.74 L387.99,173.56 L386.49,172.39 L384.98,171.22 L383.48,170.05 L381.97,168.90 L380.46,167.75 L378.95,166.60 L377.44,165.47 L375.93,164.33 L374.41,163.21 L372.90,162.09 L371.39,160.97 L369.88,159.86 L368.37,158.75 L366.86,157.64 L365.34,156.55 L363.83,155.45 L362.32,154.37 L360.81,153.28 L359.30,152.20 L357.79,151.13 L356.28,150.06 L354.76,149.00 L353.25,147.94 L351.74,146.88 L350.23,145.83 L348.72,144.79 L347.21,143.75 L345.70,142.71 L344.18,141.68 L342.67,140.66 L341.16,139.64 L339.65,138.62 L338.14,137.61 L336.63,136.61 L335.12,135.61 L333.61,134.61 L332.09,133.62 L330.58,132.63 L329.07,131.65 L327.56,130.68 L326.05,129.71 L324.54,128.74 L323.03,127.78 L321.52,126.82 L320.01,125.87 L318.50,124.93 L316.99,123.99 L315.47,123.05 L313.96,122.12 L312.45,121.20 L310.94,120.28 L309.43,119.36 L307.92,118.45 L306.41,117.55 L304.90,116.65 L303.39,115.76 L301.88,114.87 L300.37,113.99 L298.86,113.11 L297.35,112.24 L295.84,111.37 L294.33,110.51 L292.82,109.65 L291.31,108.81 L289.81,107.96 L288.30,107.12 L286.79,106.29 L285.28,105.46 L283.77,104.64 L282.26,103.83 L280.75,103.02 L279.24,102.22 L277.73,101.42 L276.23,100.63 L274.72,99.84 L273.21,99.06 L271.70,98.29 L270.19,97.52 L268.69,96.76 L267.18,96.00 L265.67,95.25 L264.16,94.51 L262.66,93.78 L261.15,93.05 L259.64,92.32 L258.14,91.60 L256.63,90.89 L255.12,90.19 L253.61,89.49 L252.11,88.80 L250.60,88.11 L249.10,87.44 L247.59,86.76 L246.08,86.10 L244.58,85.44 L243.07,84.79 L241.57,84.14 L240.06,83.51 L238.56,82.88 L237.05,82.25 L235.55,81.63 L234.04,81.02 L232.54,80.42 L231.03,79.82 L229.53,79.23 L228.02,78.65 L226.52,78.08 L225.01,77.51 L223.51,76.95 L222.01,76.39 L220.50,75.85 L219.00,75.31 L217.50,74.77 L215.99,74.25 L214.49,73.73 L212.99,73.22 L211.48,72.72 L209.98,72.22 L208.48,71.73 L206.97,71.25 L205.47,70.78 L203.97,70.31 L202.47,69.85 L200.96,69.40 L199.46,68.96 L197.96,68.52 L196.46,68.09 L194.96,67.67 L193.45,67.26 L191.95,66.85 L190.45,66.45 L188.95,66.06 L187.45,65.68 L185.95,65.30 L184.44,64.93 L182.94,64.57 L181.44,64.22 L179.94,63.87 L178.44,63.53 L176.94,63.20 L175.44,62.87 L173.94,62.56 L172.44,62.25 L170.93,61.95 L169.43,61.65 L167.93,61.37 L166.43,61.09 L164.93,60.82 L163.43,60.55 L161.93,60.29 L160.43,60.05 L158.93,59.80 L157.43,59.57 L155.93,59.34 L154.43,59.12 L152.92,58.91 L151.42,58.71 L149.92,58.51 L148.42,58.32 L146.92,58.13 L145.42,57.96 L143.92,57.79 L142.42,57.63 L140.92,57.47 L139.42,57.33 L137.92,57.19 L136.42,57.06 L134.91,56.93 L133.41,56.81 L131.91,56.70 L130.41,56.60 L128.91,56.50 L127.41,56.41 L125.91,56.33 L124.41,56.26 L122.91,56.19 L121.41,56.13 L119.91,56.08 L118.40,56.03 L116.90,55.99 L115.40,55.96 L113.90,55.93 L112.40,55.91 L110.90,55.90 L109.39,55.90 Z" fill="#b0b0ff"/>
<path d="M109.41,49.20 L110.93,49.20 L112.47,49.21 L114.00,49.23 L115.53,49.26 L117.06,49.29 L118.60,49.33 L120.13,49.38 L121.66,49.43 L123.19,49.50 L124.73,49.56 L126.26,49.64 L127.79,49.72 L129.32,49.82 L130.86,49.91 L132.39,50.02 L133.92,50.13 L135.45,50.25 L136.99,50.38 L138.52,50.51 L140.05,50.66 L141.59,50.81 L143.12,50.96 L144.65,51.13 L146.18,51.30 L147.72,51.48 L149.25,51.67 L150.78,51.86 L152.31,52.06 L153.85,52.27 L155.38,52.49 L156.91,52.71 L158.44,52.94 L159.98,53.18 L161.51,53.43 L163.04,53.68 L164.57,53.94 L166.11,54.21 L167.64,54.49 L169.17,54.78 L170.71,55.07 L172.24,55.37 L173.77,55.68 L175.30,55.99 L176.84,56.31 L178.37,56.64 L179.90,56.98 L181.43,57.33 L182.96,57.68 L184.50,58.04 L186.03,58.41 L187.56,58.79 L189.09,59.17 L190.63,59.56 L192.16,59.96 L193.69,60.37 L195.22,60.78 L196.75,61.20 L198.28,61.63 L199.82,62.07 L201.35,62.51 L202.88,62.97 L204.41,63.42 L205.94,63.89 L207.47,64.37 L209.01,64.85 L210.54,65.34 L212.07,65.83 L213.60,66.34 L215.13,66.85 L216.66,67.37 L218.19,67.90 L219.72,68.43 L221.25,68.97 L222.78,69.52 L224.31,70.08 L225.85,70.64 L227.38,71.21 L228.91,71.79 L230.44,72.37 L231.97,72.96 L233.50,73.56 L235.03,74.16 L236.56,74.78 L238.09,75.40 L239.62,76.02 L241.15,76.66 L242.67,77.30 L244.20,77.94 L245.73,78.60 L247.26,79.26 L248.79,79.93 L250.32,80.60 L251.85,81.28 L253.38,81.97 L254.91,82.66 L256.44,83.36 L257.96,84.07 L259.49,84.78 L261.02,85.50 L262.55,86.23 L264.08,86.96 L265.61,87.70 L267.13,88.45 L268.66,89.20 L270.19,89.95 L271.72,90.72 L273.25,91.49 L274.77,92.26 L276.30,93.05 L277.83,93.83 L279.36,94.63 L280.88,95.43 L282.41,96.23 L283.94,97.05 L285.47,97.86 L286.99,98.69 L288.52,99.52 L290.05,100.35 L291.57,101.19 L293.10,102.04 L294.63,102.89 L296.15,103.75 L297.68,104.61 L299.21,105.48 L300.73,106.35 L302.26,107.23 L303.79,108.11 L305.31,109.00 L306.84,109.89 L308.37,110.79 L309.90,111.68 L311.44,112.59 L312.97,113.49 L314.50,114.40 L316.03,115.32 L317.57,116.24 L319.10,117.16 L320.64,118.09 L322.17,119.02 L323.71,119.96 L325.24,120.90 L326.78,121.85 L328.32,122.80 L329.85,123.76 L331.39,124.72 L332.93,125.68 L334.47,126.65 L336.00,127.63 L337.54,128.61 L339.08,129.60 L340.61,130.59 L342.15,131.58 L343.69,132.58 L345.23,133.59 L346.76,134.60 L348.30,135.61 L349.84,136.63 L351.38,137.65 L352.92,138.68 L354.46,139.71 L356.00,140.75 L357.54,141.79 L359.08,142.83 L360.62,143.88 L362.17,144.94 L363.71,145.99 L365.25,147.06 L366.79,148.12 L368.34,149.20 L369.88,150.27 L371.42,151.35 L372.97,152.44 L374.51,153.53 L376.05,154.63 L377.60,155.73 L379.14,156.83 L380.69,157.95 L382.23,159.06 L383.77,160.18 L385.32,161.31 L386.86,162.44 L388.41,163.57 L389.96,164.71 L391.50,165.86 L393.05,167.00 L394.59,168.16 L396.14,169.32 L397.69,170.48 L399.24,171.65 L400.78,172.82 L402.33,174.00 L403.88,175.18 L405.43,176.37 L406.98,177.57 L408.53,178.76 L410.08,179.97 L411.63,181.18 L413.18,182.39 L414.73,183.61 L416.28,184.83 L417.83,186.06 L419.38,187.29 L420.93,188.53 L422.48,189.78 L424.04,191.03 L425.59,192.28 L427.14,193.54 L428.70,194.80 L430.25,196.07 L431.81,197.34 L433.37,198.62 L434.92,199.91 L436.48,201.20 L438.04,202.49 L439.60,203.79 L441.15,205.10 L442.71,206.41 L444.27,207.72 L445.83,209.05 L447.39,210.38 L448.95,211.71 L450.51,213.05 L452.06,214.40 L453.62,215.75 L455.18,217.11 L456.73,218.48 L458.29,219.86 L459.85,221.24 L461.40,222.62 L462.95,224.02 L464.50,225.42 L466.05,226.83 L467.60,228.25 L469.15,229.67 L470.70,231.10 L472.25,232.53 L473.80,233.97 L475.36,235.42 L476.91,236.86 L478.47,238.32 L480.02,239.77 L481.58,241.23 L483.15,242.70 L484.72,244.16 L486.29,245.63 L487.88,247.08 L489.47,248.54 L491.08,249.99 L492.69,251.45 L494.30,252.90 L495.93,254.36 L497.56,255.81 L499.19,257.27 L500.82,258.74 L502.45,260.21 L504.09,261.68 L505.72,263.17 L507.36,264.66 L508.99,266.16 L510.61,267.67 L512.23,269.20 L513.85,270.73 L515.45,272.28 L517.05,273.84 L518.64,275.42 L520.23,277.01 L521.81,278.60 L523.40,280.20 L524.99,281.81 L526.58,283.42 L528.16,285.04 L529.75,286.66 L531.33,288.29 L532.92,289.93 L534.50,291.58 L536.09,293.23 L537.67,294.89 L539.25,296.55 L540.84,298.22 L542.42,299.90 L543.99,301.59 L545.57,303.28 L547.15,304.98 L548.72,306.69 L550.29,308.41 L551.86,310.13 L553.43,311.87 L555.00,313.61 L556.56,315.35 L558.12,317.11 L559.68,318.87 L561.23,320.65 L562.79,322.43 L564.34,324.22 L565.88,326.01 L567.43,327.82 L568.97,329.64 L570.50,331.46 L572.04,333.30 L573.57,335.14 L575.09,336.99 L576.61,338.85 L578.13,340.72 L579.65,342.60 L581.16,344.49 L582.67,346.39 L584.17,348.29 L585.68,350.21 L587.18,352.13 L588.67,354.06 L590.17,356.00 L591.66,357.95 L593.15,359.91 L594.64,361.88 L596.12,363.85 L597.61,365.83 L599.09,367.83 L600.57,369.83 L602.03,371.85 L603.47,373.89 L604.89,375.96 L606.30,378.05 L607.69,380.16 L609.07,382.28 L610.45,384.41 L611.82,386.56 L613.19,388.71 L614.56,390.87 L615.95,393.03 L617.34,395.19 L618.73,397.36 L620.12,399.54 L621.52,401.73 L622.91,403.93 L624.31,406.13 L625.72,408.34 L627.13,410.55 L628.55,412.77 L629.97,415.01 L631.38,417.26 L632.79,419.52 L634.18,421.81 L635.57,424.11 L636.93,426.45 L638.25,428.82 L639.54,431.23 L640.83,433.65 L642.14,436.07 L643.46,438.50 L644.77,440.95 L646.08,443.42 L647.39,445.90 L648.72,448.38 L650.07,450.87 L651.45,453.36 L652.87,455.83 L654.34,458.26 L655.84,460.67 L657.34,463.08 L658.84,465.49 L660.35,467.91 L661.87,470.33 L657.63,473.00 L656.10,470.59 L654.57,468.20 L653.03,465.82 L651.48,463.44 L649.91,461.07 L648.35,458.69 L646.43,456.55 L643.98,454.77 L641.30,453.17 L638.69,451.56 L636.43,449.74 L634.47,447.75 L632.56,445.75 L630.70,443.73 L628.87,441.71 L627.07,439.69 L625.30,437.66 L623.56,435.64 L621.82,433.62 L620.11,431.61 L618.39,429.60 L616.68,427.61 L614.97,425.63 L613.27,423.66 L611.58,421.69 L609.90,419.73 L608.25,417.75 L606.63,415.77 L605.03,413.78 L603.47,411.77 L601.91,409.78 L600.36,407.78 L598.81,405.80 L597.26,403.82 L595.71,401.85 L594.17,399.88 L592.63,397.92 L591.09,395.97 L589.56,394.02 L588.04,392.07 L586.51,390.13 L584.99,388.19 L583.48,386.26 L581.97,384.33 L580.47,382.40 L578.98,380.47 L577.49,378.54 L576.01,376.62 L574.54,374.69 L573.07,372.77 L571.60,370.85 L570.14,368.93 L568.69,367.02 L567.23,365.11 L565.78,363.21 L564.33,361.31 L562.88,359.42 L561.43,357.53 L559.97,355.65 L558.52,353.78 L557.06,351.91 L555.60,350.05 L554.14,348.21 L552.67,346.37 L551.20,344.54 L549.73,342.71 L548.26,340.89 L546.79,339.08 L545.32,337.27 L543.84,335.47 L542.37,333.68 L540.90,331.89 L539.43,330.10 L537.95,328.33 L536.48,326.55 L535.01,324.79 L533.54,323.02 L532.07,321.27 L530.61,319.52 L529.14,317.77 L527.67,316.02 L526.21,314.29 L524.75,312.55 L523.29,310.82 L521.83,309.09 L520.37,307.37 L518.92,305.65 L517.47,303.94 L516.02,302.22 L514.57,300.51 L513.13,298.81 L511.68,297.11 L510.24,295.41 L508.80,293.72 L507.36,292.03 L505.93,290.35 L504.49,288.67 L503.06,286.99 L501.62,285.32 L500.19,283.66 L498.76,282.00 L497.33,280.34 L495.90,278.69 L494.47,277.04 L493.04,275.40 L491.61,273.77 L490.18,272.14 L488.75,270.51 L487.32,268.89 L485.89,267.28 L484.46,265.67 L483.03,264.07 L481.60,262.47 L480.17,260.88 L478.74,259.30 L477.31,257.72 L475.87,256.15 L474.44,254.59 L473.00,253.03 L471.57,251.47 L470.14,249.92 L468.71,248.37 L467.28,246.83 L465.85,245.29 L464.42,243.76 L463.00,242.23 L461.57,240.71 L460.14,239.20 L458.70,237.69 L457.27,236.19 L455.83,234.69 L454.39,233.21 L452.95,231.73 L451.51,230.26 L450.06,228.80 L448.61,227.35 L447.16,225.90 L445.72,224.46 L444.27,223.02 L442.82,221.59 L441.37,220.16 L439.92,218.74 L438.47,217.32 L437.01,215.92 L435.56,214.51 L434.10,213.12 L432.65,211.73 L431.19,210.35 L429.73,208.98 L428.26,207.62 L426.80,206.26 L425.33,204.91 L423.85,203.57 L422.38,202.24 L420.90,200.92 L419.42,199.61 L417.93,198.31 L416.44,197.01 L414.95,195.73 L413.45,194.45 L411.96,193.17 L410.47,191.90 L408.98,190.64 L407.48,189.38 L405.99,188.13 L404.49,186.88 L402.99,185.64 L401.50,184.41 L400.00,183.18 L398.50,181.96 L397.00,180.74 L395.50,179.53 L394.00,178.32 L392.50,177.12 L391.00,175.93 L389.50,174.74 L387.99,173.56 L386.49,172.39 L384.98,171.22 L383.48,170.05 L381.97,168.90 L380.46,167.75 L378.95,166.60 L377.44,165.47 L375.93,164.33 L374.41,163.21 L372.90,162.09 L371.39,160.97 L369.88,159.86 L368.37,158.75 L366.86,157.64 L365.34,156.55 L363.83,155.45 L362.32,154.37 L360.81,153.28 L359.30,152.20 L357.79,151.13 L356.28,150.06 L354.76,149.00 L353.25,147.94 L351.74,146.88 L350.23,145.83 L348.72,144.79 L347.21,143.75 L345.70,142.71 L344.18,141.68 L342.67,140.66 L341.16,139.64 L339.65,138.62 L338.14,137.61 L336.63,136.61 L335.12,135.61 L333.61,134.61 L332.09,133.62 L330.58,132.63 L329.07,131.65 L327.56,130.68 L326.05,129.71 L324.54,128.74 L323.03,127.78 L321.52,126.82 L320.01,125.87 L318.50,124.93 L316.99,123.99 L315.47,123.05 L313.96,122.12 L312.45,121.20 L310.94,120.28 L309.43,119.36 L307.92,118.45 L306.41,117.55 L304.90,116.65 L303.39,115.76 L301.88,114.87 L300.37,113.99 L298.86,113.11 L297.35,112.24 L295.84,111.37 L294.33,110.51 L292.82,109.65 L291.31,108.81 L289.81,107.96 L288.30,107.12 L286.79,106.29 L285.28,105.46 L283.77,104.64 L282.26,103.83 L280.75,103.02 L279.24,102.22 L277.73,101.42 L276.23,100.63 L274.72,99.84 L273.21,99.06 L271.70,98.29 L270.19,97.52 L268.69,96.76 L267.18,96.00 L265.67,95.25 L264.16,94.51 L262.66,93.78 L261.15,93.05 L259.64,92.32 L258.14,91.60 L256.63,90.89 L255.12,90.19 L253.61,89.49 L252.11,88.80 L250.60,88.11 L249.10,87.44 L247.59,86.76 L246.08,86.10 L244.58,85.44 L243.07,84.79 L241.57,84.14 L240.06,83.51 L238.56,82.88 L237.05,82.25 L235.55,81.63 L234.04,81.02 L232.54,80.42 L231.03,79.82 L229.53,79.23 L228.02,78.65 L226.52,78.08 L225.01,77.51 L223.51,76.95 L222.01,76.39 L220.50,75.85 L219.00,75.31 L217.50,74.77 L215.99,74.25 L214.49,73.73 L212.99,73.22 L211.48,72.72 L209.98,72.22 L208.48,71.73 L206.97,71.25 L205.47,70.78 L203.97,70.31 L202.47,69.85 L200.96,69.40 L199.46,68.96 L197.96,68.52 L196.46,68.09 L194.96,67.67 L193.45,67.26 L191.95,66.85 L190.45,66.45 L188.95,66.06 L187.45,65.68 L185.95,65.30 L184.44,64.93 L182.94,64.57 L181.44,64.22 L179.94,63.87 L178.44,63.53 L176.94,63.20 L175.44,62.87 L173.94,62.56 L172.44,62.25 L170.93,61.95 L169.43,61.65 L167.93,61.37 L166.43,61.09 L164.93,60.82 L163.43,60.55 L161.93,60.29 L160.43,60.05 L158.93,59.80 L157.43,59.57 L155.93,59.34 L154.43,59.12 L152.92,58.91 L151.42,58.71 L149.92,58.51 L148.42,58.32 L146.92,58.13 L145.42,57.96 L143.92,57.79 L142.42,57.63 L140.92,57.47 L139.42,57.33 L137.92,57.19 L136.42,57.06 L134.91,56.93 L133.41,56.81 L131.91,56.70 L130.41,56.60 L128.91,56.50 L127.41,56.41 L125.91,56.33 L124.41,56.26 L122.91,56.19 L121.41,56.13 L119.91,56.08 L118.40,56.03 L116.90,55.99 L115.40,55.96 L113.90,55.93 L112.40,55.91 L110.90,55.90 L109.39,55.90 Z" fill="#8080ff"/>
<path d="M658.20,469.30 L735.60,515.40 L736.52,515.08 L737.44,514.79 L738.36,514.54 L739.28,514.35 L740.20,514.18 L741.12,514.03 L742.04,513.90 L742.96,513.79 L743.88,513.71 L744.80,513.64 L745.72,513.58 L746.64,513.53 L747.56,513.48 L748.48,513.44 L749.40,513.42 L750.32,513.40 L751.24,513.40 L752.16,513.43 L753.08,513.48 L754.01,513.54 L754.93,513.61 L755.85,513.69 L756.77,513.78 L757.69,513.87 L758.61,513.96 L759.53,514.07 L760.45,514.20 L761.37,514.34 L762.29,514.50 L763.21,514.66 L764.13,514.83 L765.05,515.01 L765.97,515.20 L766.89,515.40 L767.81,515.62 L768.73,515.86 L769.65,516.10 L770.57,516.35 L771.49,516.61 L772.41,516.86 L773.33,517.12 L774.25,517.38 L775.17,517.66 L776.09,517.93 L777.01,518.22 L777.93,518.51 L778.85,518.80 L779.77,519.10 L780.69,519.40 L781.61,519.70 L782.53,520.01 L783.45,520.32 L784.37,520.63 L785.29,520.95 L786.21,521.27 L787.13,521.60 L788.05,521.94 L788.97,522.28 L789.89,522.63 L790.82,522.98 L791.74,523.36 L792.66,523.74 L793.58,524.14 L794.50,524.55 L795.42,524.96 L796.34,525.37 L797.26,525.79 L798.18,526.20 L799.10,526.61 L800.02,527.01 L800.94,527.40 L801.86,527.79 L802.78,528.18 L803.70,528.57 L804.62,528.96 L805.54,529.35 L806.46,529.73 L807.38,530.12 L808.30,530.50 L808.30,573.40 L683.00,575.00 L682.83,573.72 L682.67,572.44 L682.50,571.15 L682.33,569.87 L682.16,568.59 L681.99,567.31 L681.83,566.02 L681.66,564.74 L681.50,563.46 L681.33,562.18 L681.16,560.89 L680.99,559.61 L680.82,558.33 L680.65,557.05 L680.47,555.77 L680.28,554.48 L680.10,553.20 L679.90,551.92 L679.70,550.64 L679.49,549.35 L679.28,548.07 L679.06,546.79 L678.83,545.51 L678.59,544.23 L678.35,542.94 L678.10,541.66 L677.85,540.38 L677.59,539.10 L677.33,537.81 L677.07,536.53 L676.80,535.25 L676.53,533.97 L676.26,532.68 L675.99,531.40 L675.70,530.12 L675.41,528.84 L675.12,527.56 L674.82,526.27 L674.51,524.99 L674.21,523.71 L673.90,522.43 L673.59,521.14 L673.27,519.86 L672.96,518.58 L672.65,517.30 L672.35,516.02 L672.04,514.73 L671.74,513.45 L671.45,512.17 L671.16,510.89 L670.87,509.60 L670.58,508.32 L670.29,507.04 L670.01,505.76 L669.72,504.47 L669.43,503.19 L669.14,501.91 L668.85,500.63 L668.55,499.35 L668.25,498.06 L667.94,496.78 L667.62,495.50 L667.30,494.22 L666.98,492.93 L666.65,491.65 L666.32,490.37 L665.98,489.09 L665.62,487.81 L665.26,486.52 L664.88,485.24 L664.49,483.96 L664.07,482.68 L663.64,481.39 L663.19,480.11 L662.72,478.83 L662.24,477.55 L661.74,476.26 L661.23,474.98 L660.70,473.70 Z" fill="#8080ff"/>
<path d="M663.41,472.77 L665.07,475.15 L666.86,477.48 L668.74,479.80 L670.69,482.13 L672.65,484.50 L674.59,486.90 L676.48,489.36 L678.27,491.91 L679.98,494.54 L681.67,497.21 L683.35,499.94 L685.01,502.71 L686.66,505.54 L688.31,508.41 L689.95,511.35 L691.60,514.33 L693.24,517.38 L694.90,520.48 L696.57,523.65 L698.26,526.89 L699.97,530.23 L701.72,533.70 L703.48,537.28 L705.26,540.97 L707.05,544.74 L708.84,548.61 L710.63,552.55 L712.40,556.57 L714.15,560.65 L715.72,564.37 L717.13,566.84 L718.77,569.69 L720.45,572.66 L722.12,575.68 L723.78,578.72 L725.43,581.78 L707.02,590.81 L705.61,587.67 L704.23,584.57 L702.88,581.48 L701.54,578.41 L700.17,575.27 L698.60,571.49 L697.20,566.86 L696.02,562.66 L694.88,558.51 L693.76,554.43 L692.66,550.43 L691.55,546.53 L690.40,542.74 L689.22,539.10 L687.97,535.60 L686.66,532.25 L685.32,528.98 L683.97,525.77 L682.60,522.63 L681.22,519.55 L679.83,516.53 L678.43,513.56 L677.03,510.63 L675.63,507.75 L674.23,504.91 L672.83,502.09 L671.44,499.31 L670.06,496.55 L668.70,493.80 L667.37,491.07 L666.04,488.35 L664.72,485.66 L663.38,483.02 L662.01,480.43 L660.60,477.90 L659.14,475.42 Z" fill="#6a6aff"/>
<path d="M109.40,51.80 L110.92,51.80 L112.44,51.81 L113.96,51.83 L115.48,51.86 L117.00,51.89 L118.52,51.93 L120.04,51.98 L121.56,52.03 L123.08,52.09 L124.60,52.16 L126.12,52.24 L127.64,52.32 L129.16,52.41 L130.68,52.51 L132.20,52.61 L133.72,52.72 L135.25,52.84 L136.77,52.97 L138.29,53.10 L139.81,53.25 L141.33,53.39 L142.85,53.55 L144.37,53.71 L145.89,53.88 L147.41,54.06 L148.93,54.25 L150.45,54.44 L151.97,54.64 L153.49,54.85 L155.01,55.06 L156.53,55.28 L158.05,55.51 L159.57,55.75 L161.09,55.99 L162.61,56.25 L164.13,56.51 L165.65,56.77 L167.17,57.05 L168.69,57.33 L170.21,57.62 L171.73,57.92 L173.25,58.22 L174.77,58.54 L176.29,58.86 L177.81,59.18 L179.33,59.52 L180.85,59.86 L182.37,60.21 L183.89,60.57 L185.42,60.94 L186.94,61.31 L188.46,61.69 L189.98,62.08 L191.50,62.47 L193.02,62.88 L194.54,63.29 L196.06,63.71 L197.58,64.13 L199.10,64.57 L200.62,65.01 L202.14,65.46 L203.66,65.91 L205.18,66.38 L206.70,66.85 L208.22,67.33 L209.74,67.81 L211.26,68.31 L212.78,68.81 L214.30,69.31 L215.82,69.83 L217.34,70.35 L218.86,70.88 L220.38,71.42 L221.90,71.97 L223.42,72.52 L224.94,73.08 L226.46,73.64 L227.98,74.22 L229.50,74.80 L231.02,75.38 L232.54,75.98 L234.06,76.58 L235.58,77.19 L237.11,77.80 L238.63,78.43 L240.15,79.06 L241.67,79.69 L243.19,80.34 L244.71,80.99 L246.23,81.64 L247.75,82.31 L249.27,82.98 L250.79,83.65 L252.31,84.34 L253.83,85.03 L255.35,85.72 L256.87,86.43 L258.39,87.14 L259.91,87.85 L261.43,88.58 L262.95,89.30 L264.47,90.04 L265.99,90.78 L267.51,91.53 L269.03,92.28 L270.55,93.04 L272.07,93.81 L273.59,94.58 L275.11,95.36 L276.63,96.14 L278.15,96.93 L279.67,97.73 L281.19,98.53 L282.71,99.34 L284.23,100.15 L285.75,100.97 L287.28,101.80 L288.80,102.63 L290.32,103.47 L291.84,104.31 L293.36,105.16 L294.88,106.01 L296.40,106.87 L297.92,107.74 L299.44,108.61 L300.96,109.48 L302.48,110.36 L304.00,111.25 L305.52,112.14 L307.04,113.04 L308.56,113.94 L310.08,114.85 L311.60,115.76 L313.12,116.68 L314.64,117.61 L316.16,118.54 L317.68,119.47 L319.20,120.41 L320.72,121.35 L322.24,122.30 L323.76,123.26 L325.28,124.22 L326.80,125.18 L328.32,126.15 L329.84,127.13 L331.36,128.10 L332.88,129.09 L334.40,130.08 L335.92,131.07 L337.45,132.07 L338.97,133.08 L340.49,134.09 L342.01,135.10 L343.53,136.12 L345.05,137.14 L346.57,138.17 L348.09,139.20 L349.61,140.24 L351.13,141.29 L352.65,142.33 L354.17,143.39 L355.69,144.44 L357.21,145.51 L358.73,146.57 L360.25,147.65 L361.77,148.72 L363.29,149.80 L364.81,150.89 L366.33,151.98 L367.85,153.08 L369.37,154.18 L370.89,155.29 L372.41,156.40 L373.93,157.51 L375.45,158.63 L376.97,159.76 L378.49,160.89 L380.01,162.02 L381.53,163.16 L383.05,164.31 L384.57,165.46 L386.09,166.61 L387.62,167.77 L389.14,168.94 L390.66,170.11 L392.18,171.28 L393.70,172.46 L395.22,173.65 L396.74,174.84 L398.26,176.03 L399.78,177.23 L401.30,178.44 L402.82,179.65 L404.34,180.86 L405.86,182.08 L407.38,183.31 L408.90,184.54 L410.42,185.77 L411.94,187.01 L413.46,188.26 L414.98,189.51 L416.50,190.77 L418.02,192.03 L419.54,193.30 L421.06,194.57 L422.58,195.85 L424.10,197.13 L425.62,198.42 L427.14,199.72 L428.66,201.02 L430.18,202.32 L431.70,203.63 L433.22,204.95 L434.74,206.27 L436.26,207.60 L437.78,208.93 L439.31,210.27 L440.83,211.61 L442.35,212.96 L443.87,214.32 L445.39,215.68 L446.91,217.05 L448.43,218.42 L449.95,219.80 L451.47,221.18 L452.99,222.57 L454.51,223.97 L456.03,225.37 L457.55,226.78 L459.07,228.19 L460.59,229.61 L462.11,231.03 L463.63,232.46 L465.15,233.90 L466.67,235.34 L468.19,236.79 L469.71,238.24 L471.23,239.70 L472.75,241.17 L474.27,242.64 L475.79,244.12 L477.31,245.60 L478.83,247.09 L480.35,248.59 L481.87,250.09 L483.39,251.60 L484.91,253.11 L486.43,254.63 L487.95,256.15 L489.48,257.69 L491.00,259.22 L492.52,260.77 L494.04,262.32 L495.56,263.87 L497.08,265.43 L498.60,267.00 L500.12,268.57 L501.64,270.15 L503.16,271.74 L504.68,273.33 L506.20,274.93 L507.72,276.53 L509.24,278.14 L510.76,279.76 L512.28,281.38 L513.80,283.01 L515.32,284.64 L516.84,286.28 L518.36,287.92 L519.88,289.57 L521.40,291.23 L522.92,292.89 L524.44,294.56 L525.96,296.24 L527.48,297.92 L529.00,299.60 L530.52,301.30 L532.04,302.99 L533.56,304.70 L535.08,306.41 L536.60,308.12 L538.12,309.85 L539.65,311.57 L541.17,313.31 L542.69,315.05 L544.21,316.79 L545.73,318.54 L547.25,320.30 L548.77,322.06 L550.29,323.83 L551.81,325.61 L553.33,327.39 L554.85,329.17 L556.37,330.97 L557.89,332.76 L559.41,334.57 L560.93,336.38 L562.45,338.19 L563.97,340.02 L565.49,341.84 L567.01,343.68 L568.53,345.52 L570.05,347.37 L571.57,349.22 L573.09,351.08 L574.61,352.94 L576.13,354.81 L577.65,356.69 L579.17,358.58 L580.69,360.47 L582.21,362.37 L583.73,364.27 L585.25,366.18 L586.77,368.10 L588.29,370.02 L589.82,371.96 L591.34,373.90 L592.86,375.84 L594.38,377.80 L595.90,379.76 L597.42,381.73 L598.94,383.70 L600.46,385.69 L601.98,387.68 L603.50,389.68 L605.02,391.69 L606.54,393.71 L608.06,395.74 L609.58,397.77 L611.10,399.82 L612.62,401.87 L614.14,403.94 L615.66,406.01 L617.18,408.09 L618.70,410.19 L620.22,412.30 L621.74,414.41 L623.26,416.54 L624.78,418.68 L626.30,420.83 L627.82,423.00 L629.34,425.18 L630.86,427.37 L632.38,429.57 L633.90,431.79 L635.42,434.02 L636.94,436.27 L638.46,438.53 L639.98,440.81 L641.51,443.11 L643.03,445.42 L644.55,447.75 L646.07,450.10 L647.59,452.46 L649.11,454.85 L650.63,457.25 L652.15,459.65 L653.67,462.05 L655.19,464.44 L656.71,466.84 L658.23,469.25 L659.75,471.66 L661.27,474.10 L662.79,476.55 L664.31,479.04 L665.83,481.55 L667.35,484.10 L668.87,486.70 L670.39,489.32 L671.91,491.97 L673.43,494.65 L674.95,497.35 L676.47,500.08 L677.99,502.85 L679.51,505.66 L681.03,508.51 L682.55,511.41 L684.07,514.35 L685.59,517.35 L687.11,520.40 L688.63,523.52 L690.15,526.69 L691.68,529.93 L693.20,533.26 L694.72,536.72 L696.24,540.31 L697.76,544.01 L699.28,547.81 L700.80,551.71 L702.32,555.70 L703.84,559.75 L705.36,563.87 L706.88,568.04 L708.40,571.18 L709.92,574.17 L711.44,577.19 L712.96,580.23 L714.48,583.30 L716.00,586.40" fill="none" stroke="#00f" stroke-width="5.3"/>
</g>
<g clip-path="url(#ax)">
<path d="M589.21,376.70 V389.40 M585.71,376.70 H592.71 M585.71,389.40 H592.71" stroke="#000" stroke-width="2.50" fill="none"/>
<path d="M632.82,398.10 V445.20 M629.32,398.10 H636.32 M629.32,445.20 H636.32" stroke="#000" stroke-width="2.50" fill="none"/>
<path d="M676.44,399.20 V450.10 M672.94,399.20 H679.94 M672.94,450.10 H679.94" stroke="#000" stroke-width="2.50" fill="none"/>
<path d="M720.06,401.50 V447.00 M716.56,401.50 H723.56 M716.56,447.00 H723.56" stroke="#000" stroke-width="2.50" fill="none"/>
<path d="M763.68,408.80 V456.00 M760.18,408.80 H767.18 M760.18,456.00 H767.18" stroke="#000" stroke-width="2.50" fill="none"/>
<path d="M807.30,421.10 V477.20 M803.80,421.10 H810.80 M803.80,477.20 H810.80" stroke="#000" stroke-width="2.50" fill="none"/>
</g>
<path d="M111.02,48.93 L125.22,48.93 L118.12,61.13 Z" fill="#000"/>
<path d="M119.75,49.33 L133.95,49.33 L126.85,61.53 Z" fill="#000"/>
<path d="M128.47,49.93 L142.67,49.93 L135.57,62.13 Z" fill="#000"/>
<path d="M137.20,50.83 L151.40,50.83 L144.30,63.03 Z" fill="#000"/>
<path d="M145.92,51.93 L160.12,51.93 L153.02,64.13 Z" fill="#000"/>
<path d="M189.54,63.73 L203.74,63.73 L196.64,75.93 Z" fill="#000"/>
<path d="M233.16,80.43 L247.36,80.43 L240.26,92.63 Z" fill="#000"/>
<path d="M276.77,102.53 L290.98,102.53 L283.88,114.73 Z" fill="#000"/>
<path d="M320.39,129.43 L334.59,129.43 L327.49,141.63 Z" fill="#000"/>
<path d="M364.01,160.33 L378.21,160.33 L371.11,172.53 Z" fill="#000"/>
<path d="M407.63,194.83 L421.83,194.83 L414.73,207.03 Z" fill="#000"/>
<path d="M451.25,233.23 L465.45,233.23 L458.35,245.43 Z" fill="#000"/>
<path d="M494.87,276.43 L509.07,276.43 L501.97,288.63 Z" fill="#000"/>
<path d="M538.49,325.43 L552.69,325.43 L545.59,337.63 Z" fill="#000"/>
<path d="M582.11,378.93 L596.31,378.93 L589.21,391.13 Z" fill="#000"/>
<path d="M625.72,412.93 L639.92,412.93 L632.82,425.13 Z" fill="#000"/>
<path d="M669.34,414.93 L683.54,414.93 L676.44,427.13 Z" fill="#000"/>
<path d="M712.96,415.53 L727.16,415.53 L720.06,427.73 Z" fill="#000"/>
<path d="M756.58,423.63 L770.78,423.63 L763.68,435.83 Z" fill="#000"/>
<path d="M800.20,438.53 L814.40,438.53 L807.30,450.73 Z" fill="#000"/>
<path d="M202.50,61.70 L205.00,65.67 L209.69,65.85 L207.50,70.00 L209.69,74.15 L205.00,74.33 L202.50,78.30 L200.00,74.33 L195.31,74.15 L197.50,70.00 L195.31,65.85 L200.00,65.67 Z" fill="#008000"/>
<path d="M209.40,64.90 L211.90,68.87 L216.59,69.05 L214.40,73.20 L216.59,77.35 L211.90,77.53 L209.40,81.50 L206.90,77.53 L202.21,77.35 L204.40,73.20 L202.21,69.05 L206.90,68.87 Z" fill="#008000"/>
<path d="M219.50,67.40 L222.00,71.37 L226.69,71.55 L224.50,75.70 L226.69,79.85 L222.00,80.03 L219.50,84.00 L217.00,80.03 L212.31,79.85 L214.50,75.70 L212.31,71.55 L217.00,71.37 Z" fill="#008000"/>
<path d="M229.50,71.70 L232.00,75.67 L236.69,75.85 L234.50,80.00 L236.69,84.15 L232.00,84.33 L229.50,88.30 L227.00,84.33 L222.31,84.15 L224.50,80.00 L222.31,75.85 L227.00,75.67 Z" fill="#008000"/>
<path d="M241.40,76.70 L243.90,80.67 L248.59,80.85 L246.40,85.00 L248.59,89.15 L243.90,89.33 L241.40,93.30 L238.90,89.33 L234.21,89.15 L236.40,85.00 L234.21,80.85 L238.90,80.67 Z" fill="#008000"/>
<path d="M252.70,81.70 L255.20,85.67 L259.89,85.85 L257.70,90.00 L259.89,94.15 L255.20,94.33 L252.70,98.30 L250.20,94.33 L245.51,94.15 L247.70,90.00 L245.51,85.85 L250.20,85.67 Z" fill="#008000"/>
<path d="M263.70,86.60 L266.20,90.57 L270.89,90.75 L268.70,94.90 L270.89,99.05 L266.20,99.23 L263.70,103.20 L261.20,99.23 L256.51,99.05 L258.70,94.90 L256.51,90.75 L261.20,90.57 Z" fill="#008000"/>
<path d="M273.90,93.80 L276.40,97.77 L281.09,97.95 L278.90,102.10 L281.09,106.25 L276.40,106.43 L273.90,110.40 L271.40,106.43 L266.71,106.25 L268.90,102.10 L266.71,97.95 L271.40,97.77 Z" fill="#008000"/>
<path d="M283.40,99.70 L285.90,103.67 L290.59,103.85 L288.40,108.00 L290.59,112.15 L285.90,112.33 L283.40,116.30 L280.90,112.33 L276.21,112.15 L278.40,108.00 L276.21,103.85 L280.90,103.67 Z" fill="#008000"/>
<path d="M295.10,105.70 L297.60,109.67 L302.29,109.85 L300.10,114.00 L302.29,118.15 L297.60,118.33 L295.10,122.30 L292.60,118.33 L287.91,118.15 L290.10,114.00 L287.91,109.85 L292.60,109.67 Z" fill="#008000"/>
<path d="M304.90,111.50 L307.40,115.47 L312.09,115.65 L309.90,119.80 L312.09,123.95 L307.40,124.13 L304.90,128.10 L302.40,124.13 L297.71,123.95 L299.90,119.80 L297.71,115.65 L302.40,115.47 Z" fill="#008000"/>
<path d="M312.60,119.30 L315.10,123.27 L319.79,123.45 L317.60,127.60 L319.79,131.75 L315.10,131.93 L312.60,135.90 L310.10,131.93 L305.41,131.75 L307.60,127.60 L305.41,123.45 L310.10,123.27 Z" fill="#008000"/>
<path d="M322.60,125.60 L325.10,129.57 L329.79,129.75 L327.60,133.90 L329.79,138.05 L325.10,138.23 L322.60,142.20 L320.10,138.23 L315.41,138.05 L317.60,133.90 L315.41,129.75 L320.10,129.57 Z" fill="#008000"/>
<path d="M333.90,132.50 L336.40,136.47 L341.09,136.65 L338.90,140.80 L341.09,144.95 L336.40,145.13 L333.90,149.10 L331.40,145.13 L326.71,144.95 L328.90,140.80 L326.71,136.65 L331.40,136.47 Z" fill="#008000"/>
<path d="M345.00,139.30 L347.50,143.27 L352.19,143.45 L350.00,147.60 L352.19,151.75 L347.50,151.93 L345.00,155.90 L342.50,151.93 L337.81,151.75 L340.00,147.60 L337.81,143.45 L342.50,143.27 Z" fill="#008000"/>
<path d="M354.00,145.70 L356.50,149.67 L361.19,149.85 L359.00,154.00 L361.19,158.15 L356.50,158.33 L354.00,162.30 L351.50,158.33 L346.81,158.15 L349.00,154.00 L346.81,149.85 L351.50,149.67 Z" fill="#008000"/>
<path d="M362.00,151.70 L364.50,155.67 L369.19,155.85 L367.00,160.00 L369.19,164.15 L364.50,164.33 L362.00,168.30 L359.50,164.33 L354.81,164.15 L357.00,160.00 L354.81,155.85 L359.50,155.67 Z" fill="#008000"/>
<path d="M368.00,156.70 L370.50,160.67 L375.19,160.85 L373.00,165.00 L375.19,169.15 L370.50,169.33 L368.00,173.30 L365.50,169.33 L360.81,169.15 L363.00,165.00 L360.81,160.85 L365.50,160.67 Z" fill="#008000"/>
<path d="M375.00,163.20 L377.50,167.17 L382.19,167.35 L380.00,171.50 L382.19,175.65 L377.50,175.83 L375.00,179.80 L372.50,175.83 L367.81,175.65 L370.00,171.50 L367.81,167.35 L372.50,167.17 Z" fill="#008000"/>
<path d="M382.00,168.00 L384.50,171.97 L389.19,172.15 L387.00,176.30 L389.19,180.45 L384.50,180.63 L382.00,184.60 L379.50,180.63 L374.81,180.45 L377.00,176.30 L374.81,172.15 L379.50,171.97 Z" fill="#008000"/>
<path d="M393.80,177.40 L396.30,181.37 L400.99,181.55 L398.80,185.70 L400.99,189.85 L396.30,190.03 L393.80,194.00 L391.30,190.03 L386.61,189.85 L388.80,185.70 L386.61,181.55 L391.30,181.37 Z" fill="#008000"/>
<path d="M408.90,191.70 L411.40,195.67 L416.09,195.85 L413.90,200.00 L416.09,204.15 L411.40,204.33 L408.90,208.30 L406.40,204.33 L401.71,204.15 L403.90,200.00 L401.71,195.85 L406.40,195.67 Z" fill="#008000"/>
<path d="M424.60,203.00 L427.10,206.97 L431.79,207.15 L429.60,211.30 L431.79,215.45 L427.10,215.63 L424.60,219.60 L422.10,215.63 L417.41,215.45 L419.60,211.30 L417.41,207.15 L422.10,206.97 Z" fill="#008000"/>
<path d="M435.80,219.50 L438.30,223.47 L442.99,223.65 L440.80,227.80 L442.99,231.95 L438.30,232.13 L435.80,236.10 L433.30,232.13 L428.61,231.95 L430.80,227.80 L428.61,223.65 L433.30,223.47 Z" fill="#008000"/>
<path d="M451.00,232.20 L453.50,236.17 L458.19,236.35 L456.00,240.50 L458.19,244.65 L453.50,244.83 L451.00,248.80 L448.50,244.83 L443.81,244.65 L446.00,240.50 L443.81,236.35 L448.50,236.17 Z" fill="#008000"/>
<path d="M463.90,247.50 L466.40,251.47 L471.09,251.65 L468.90,255.80 L471.09,259.95 L466.40,260.13 L463.90,264.10 L461.40,260.13 L456.71,259.95 L458.90,255.80 L456.71,251.65 L461.40,251.47 Z" fill="#008000"/>
<path d="M477.10,262.70 L479.60,266.67 L484.29,266.85 L482.10,271.00 L484.29,275.15 L479.60,275.33 L477.10,279.30 L474.60,275.33 L469.91,275.15 L472.10,271.00 L469.91,266.85 L474.60,266.67 Z" fill="#008000"/>
<path d="M504.10,295.60 L506.60,299.57 L511.29,299.75 L509.10,303.90 L511.29,308.05 L506.60,308.23 L504.10,312.20 L501.60,308.23 L496.91,308.05 L499.10,303.90 L496.91,299.75 L501.60,299.57 Z" fill="#008000"/>
<path d="M523.20,324.00 L525.70,327.97 L530.39,328.15 L528.20,332.30 L530.39,336.45 L525.70,336.63 L523.20,340.60 L520.70,336.63 L516.01,336.45 L518.20,332.30 L516.01,328.15 L520.70,327.97 Z" fill="#008000"/>
<path d="M534.70,338.20 L537.20,342.17 L541.89,342.35 L539.70,346.50 L541.89,350.65 L537.20,350.83 L534.70,354.80 L532.20,350.83 L527.51,350.65 L529.70,346.50 L527.51,342.35 L532.20,342.17 Z" fill="#008000"/>
<path d="M555.30,374.70 L557.80,378.67 L562.49,378.85 L560.30,383.00 L562.49,387.15 L557.80,387.33 L555.30,391.30 L552.80,387.33 L548.11,387.15 L550.30,383.00 L548.11,378.85 L552.80,378.67 Z" fill="#008000"/>
<path d="M566.30,402.70 L568.80,406.67 L573.49,406.85 L571.30,411.00 L573.49,415.15 L568.80,415.33 L566.30,419.30 L563.80,415.33 L559.11,415.15 L561.30,411.00 L559.11,406.85 L563.80,406.67 Z" fill="#008000"/>
<path d="M625.30,424.00 V442.40 M621.80,424.00 H628.80 M621.80,442.40 H628.80" stroke="#008000" stroke-width="2.50" fill="none"/>
<path d="M625.30,423.80 L627.80,427.77 L632.49,427.95 L630.30,432.10 L632.49,436.25 L627.80,436.43 L625.30,440.40 L622.80,436.43 L618.11,436.25 L620.30,432.10 L618.11,427.95 L622.80,427.77 Z" fill="#008000"/>
<path d="M646.90,419.90 V434.50 M643.40,419.90 H650.40 M643.40,434.50 H650.40" stroke="#008000" stroke-width="2.50" fill="none"/>
<path d="M646.90,418.70 L649.40,422.67 L654.09,422.85 L651.90,427.00 L654.09,431.15 L649.40,431.33 L646.90,435.30 L644.40,431.33 L639.71,431.15 L641.90,427.00 L639.71,422.85 L644.40,422.67 Z" fill="#008000"/>
<path d="M661.00,420.80 V435.00 M657.50,420.80 H664.50 M657.50,435.00 H664.50" stroke="#008000" stroke-width="2.50" fill="none"/>
<path d="M661.00,419.10 L663.50,423.07 L668.19,423.25 L666.00,427.40 L668.19,431.55 L663.50,431.73 L661.00,435.70 L658.50,431.73 L653.81,431.55 L656.00,427.40 L653.81,423.25 L658.50,423.07 Z" fill="#008000"/>
<path d="M673.80,421.20 V435.90 M670.30,421.20 H677.30 M670.30,435.90 H677.30" stroke="#008000" stroke-width="2.50" fill="none"/>
<path d="M673.80,419.70 L676.30,423.67 L680.99,423.85 L678.80,428.00 L680.99,432.15 L676.30,432.33 L673.80,436.30 L671.30,432.33 L666.61,432.15 L668.80,428.00 L666.61,423.85 L671.30,423.67 Z" fill="#008000"/>
<path d="M698.70,422.50 V441.60 M695.20,422.50 H702.20 M695.20,441.60 H702.20" stroke="#008000" stroke-width="2.50" fill="none"/>
<path d="M698.70,423.40 L701.20,427.37 L705.89,427.55 L703.70,431.70 L705.89,435.85 L701.20,436.03 L698.70,440.00 L696.20,436.03 L691.51,435.85 L693.70,431.70 L691.51,427.55 L696.20,427.37 Z" fill="#008000"/>
<path d="M727.00,428.10 V453.00 M723.50,428.10 H730.50 M723.50,453.00 H730.50" stroke="#008000" stroke-width="2.50" fill="none"/>
<path d="M727.00,430.60 L729.50,434.57 L734.19,434.75 L732.00,438.90 L734.19,443.05 L729.50,443.23 L727.00,447.20 L724.50,443.23 L719.81,443.05 L722.00,438.90 L719.81,434.75 L724.50,434.57 Z" fill="#008000"/>
<path d="M744.90,428.10 V448.50 M741.40,428.10 H748.40 M741.40,448.50 H748.40" stroke="#008000" stroke-width="2.50" fill="none"/>
<path d="M744.90,429.30 L747.40,433.27 L752.09,433.45 L749.90,437.60 L752.09,441.75 L747.40,441.93 L744.90,445.90 L742.40,441.93 L737.71,441.75 L739.90,437.60 L737.71,433.45 L742.40,433.27 Z" fill="#008000"/>
<rect x="109.40" y="52.45" width="697.70" height="517.95" fill="none" stroke="#000" stroke-width="1.6"/>
<path d="M144.30,570.40 v-3.60 M144.30,52.45 v3.60" stroke="#000" stroke-width="1.0"/>
<path d="M179.19,570.40 v-3.60 M179.19,52.45 v3.60" stroke="#000" stroke-width="1.0"/>
<path d="M214.09,570.40 v-3.60 M214.09,52.45 v3.60" stroke="#000" stroke-width="1.0"/>
<path d="M248.98,570.40 v-3.60 M248.98,52.45 v3.60" stroke="#000" stroke-width="1.0"/>
<path d="M283.88,570.40 v-7.00 M283.88,52.45 v7.00" stroke="#000" stroke-width="1.2"/>
<path d="M318.77,570.40 v-3.60 M318.77,52.45 v3.60" stroke="#000" stroke-width="1.0"/>
<path d="M353.67,570.40 v-3.60 M353.67,52.45 v3.60" stroke="#000" stroke-width="1.0"/>
<path d="M388.56,570.40 v-3.60 M388.56,52.45 v3.60" stroke="#000" stroke-width="1.0"/>
<path d="M423.46,570.40 v-3.60 M423.46,52.45 v3.60" stroke="#000" stroke-width="1.0"/>
<path d="M458.35,570.40 v-7.00 M458.35,52.45 v7.00" stroke="#000" stroke-width="1.2"/>
<path d="M493.25,570.40 v-3.60 M493.25,52.45 v3.60" stroke="#000" stroke-width="1.0"/>
<path d="M528.14,570.40 v-3.60 M528.14,52.45 v3.60" stroke="#000" stroke-width="1.0"/>
<path d="M563.03,570.40 v-3.60 M563.03,52.45 v3.60" stroke="#000" stroke-width="1.0"/>
<path d="M597.93,570.40 v-3.60 M597.93,52.45 v3.60" stroke="#000" stroke-width="1.0"/>
<path d="M632.82,570.40 v-7.00 M632.82,52.45 v7.00" stroke="#000" stroke-width="1.2"/>
<path d="M667.72,570.40 v-3.60 M667.72,52.45 v3.60" stroke="#000" stroke-width="1.0"/>
<path d="M702.62,570.40 v-3.60 M702.62,52.45 v3.60" stroke="#000" stroke-width="1.0"/>
<path d="M737.51,570.40 v-3.60 M737.51,52.45 v3.60" stroke="#000" stroke-width="1.0"/>
<path d="M772.40,570.40 v-3.60 M772.40,52.45 v3.60" stroke="#000" stroke-width="1.0"/>
<path d="M109.40,181.94 h7.00 M807.10,181.94 h-7.00" stroke="#000" stroke-width="1.2"/>
<path d="M109.40,142.96 h3.60 M807.10,142.96 h-3.60" stroke="#000" stroke-width="1.0"/>
<path d="M109.40,120.16 h3.60 M807.10,120.16 h-3.60" stroke="#000" stroke-width="1.0"/>
<path d="M109.40,103.98 h3.60 M807.10,103.98 h-3.60" stroke="#000" stroke-width="1.0"/>
<path d="M109.40,91.43 h3.60 M807.10,91.43 h-3.60" stroke="#000" stroke-width="1.0"/>
<path d="M109.40,81.18 h3.60 M807.10,81.18 h-3.60" stroke="#000" stroke-width="1.0"/>
<path d="M109.40,72.51 h3.60 M807.10,72.51 h-3.60" stroke="#000" stroke-width="1.0"/>
<path d="M109.40,65.00 h3.60 M807.10,65.00 h-3.60" stroke="#000" stroke-width="1.0"/>
<path d="M109.40,58.38 h3.60 M807.10,58.38 h-3.60" stroke="#000" stroke-width="1.0"/>
<path d="M109.40,311.42 h7.00 M807.10,311.42 h-7.00" stroke="#000" stroke-width="1.2"/>
<path d="M109.40,272.45 h3.60 M807.10,272.45 h-3.60" stroke="#000" stroke-width="1.0"/>
<path d="M109.40,249.64 h3.60 M807.10,249.64 h-3.60" stroke="#000" stroke-width="1.0"/>
<path d="M109.40,233.47 h3.60 M807.10,233.47 h-3.60" stroke="#000" stroke-width="1.0"/>
<path d="M109.40,220.92 h3.60 M807.10,220.92 h-3.60" stroke="#000" stroke-width="1.0"/>
<path d="M109.40,210.66 h3.60 M807.10,210.66 h-3.60" stroke="#000" stroke-width="1.0"/>
<path d="M109.40,202.00 h3.60 M807.10,202.00 h-3.60" stroke="#000" stroke-width="1.0"/>
<path d="M109.40,194.49 h3.60 M807.10,194.49 h-3.60" stroke="#000" stroke-width="1.0"/>
<path d="M109.40,187.86 h3.60 M807.10,187.86 h-3.60" stroke="#000" stroke-width="1.0"/>
<path d="M109.40,440.91 h7.00 M807.10,440.91 h-7.00" stroke="#000" stroke-width="1.2"/>
<path d="M109.40,401.93 h3.60 M807.10,401.93 h-3.60" stroke="#000" stroke-width="1.0"/>
<path d="M109.40,379.13 h3.60 M807.10,379.13 h-3.60" stroke="#000" stroke-width="1.0"/>
<path d="M109.40,362.95 h3.60 M807.10,362.95 h-3.60" stroke="#000" stroke-width="1.0"/>
<path d="M109.40,350.40 h3.60 M807.10,350.40 h-3.60" stroke="#000" stroke-width="1.0"/>
<path d="M109.40,340.15 h3.60 M807.10,340.15 h-3.60" stroke="#000" stroke-width="1.0"/>
<path d="M109.40,331.48 h3.60 M807.10,331.48 h-3.60" stroke="#000" stroke-width="1.0"/>
<path d="M109.40,323.97 h3.60 M807.10,323.97 h-3.60" stroke="#000" stroke-width="1.0"/>
<path d="M109.40,317.35 h3.60 M807.10,317.35 h-3.60" stroke="#000" stroke-width="1.0"/>
<path d="M109.40,531.42 h3.60 M807.10,531.42 h-3.60" stroke="#000" stroke-width="1.0"/>
<path d="M109.40,508.62 h3.60 M807.10,508.62 h-3.60" stroke="#000" stroke-width="1.0"/>
<path d="M109.40,492.44 h3.60 M807.10,492.44 h-3.60" stroke="#000" stroke-width="1.0"/>
<path d="M109.40,479.89 h3.60 M807.10,479.89 h-3.60" stroke="#000" stroke-width="1.0"/>
<path d="M109.40,469.64 h3.60 M807.10,469.64 h-3.60" stroke="#000" stroke-width="1.0"/>
<path d="M109.40,460.97 h3.60 M807.10,460.97 h-3.60" stroke="#000" stroke-width="1.0"/>
<path d="M109.40,453.46 h3.60 M807.10,453.46 h-3.60" stroke="#000" stroke-width="1.0"/>
<path d="M109.40,446.84 h3.60 M807.10,446.84 h-3.60" stroke="#000" stroke-width="1.0"/>
<text x="109.40" y="599.00" font-size="21.50" text-anchor="middle" font-family="Liberation Serif, serif" >0</text>
<text x="283.88" y="599.00" font-size="21.50" text-anchor="middle" font-family="Liberation Serif, serif" >1</text>
<text x="458.35" y="599.00" font-size="21.50" text-anchor="middle" font-family="Liberation Serif, serif" >2</text>
<text x="632.82" y="599.00" font-size="21.50" text-anchor="middle" font-family="Liberation Serif, serif" >3</text>
<text x="807.30" y="599.00" font-size="21.50" text-anchor="middle" font-family="Liberation Serif, serif" >4</text>
<text x="96.5" y="61.85" font-size="21.50" text-anchor="end" font-family="Liberation Serif, serif">10<tspan font-size="16" dy="-10.5">0</tspan></text>
<text x="96.5" y="191.34" font-size="21.50" text-anchor="end" font-family="Liberation Serif, serif">10<tspan font-size="16" dy="-10.5">-1</tspan></text>
<text x="96.5" y="320.82" font-size="21.50" text-anchor="end" font-family="Liberation Serif, serif">10<tspan font-size="16" dy="-10.5">-2</tspan></text>
<text x="96.5" y="450.31" font-size="21.50" text-anchor="end" font-family="Liberation Serif, serif">10<tspan font-size="16" dy="-10.5">-3</tspan></text>
<text x="96.5" y="579.80" font-size="21.50" text-anchor="end" font-family="Liberation Serif, serif">10<tspan font-size="16" dy="-10.5">-4</tspan></text>
<text x="422.8" y="632.1" font-size="21.5" font-family="Liberation Serif, serif" textLength="70" lengthAdjust="spacingAndGlyphs">q (fm<tspan font-size="15" dy="-10">-1</tspan><tspan dy="10">)</tspan></text>
<g transform="translate(42.4,341.8) rotate(-90)"><text x="0" y="0" font-size="21.5" font-family="Liberation Serif, serif" textLength="60.5" lengthAdjust="spacingAndGlyphs">|F<tspan font-size="15" dy="5.5">L</tspan><tspan dy="-5.5">(q)|</tspan></text></g>
<text x="632.2" y="165.3" font-size="21.5" font-family="Liberation Serif, serif" textLength="89.6" lengthAdjust="spacingAndGlyphs"><tspan font-size="15" dy="-10.5">6</tspan><tspan dy="10.5">Li (1</tspan><tspan font-size="18" dy="-8">+</tspan><tspan dy="8">,0)</tspan></text>
<path d="M150.70,393.40 H183.50 M151.70,389.90 v7 M182.50,389.90 v7" stroke="#000" stroke-width="2.2" fill="none"/>
<path d="M160.35,389.67 L173.85,389.67 L167.10,401.17 Z" fill="#000"/>
<text x="196.30" y="400.60" font-size="21.50" text-anchor="start" font-family="Liberation Serif, serif" textLength="104.2" lengthAdjust="spacingAndGlyphs">AV18+UIX</text>
<path d="M150.70,435.2 H183.50" stroke="#00f" stroke-width="5.5"/>
<text x="196.3" y="443.6" font-size="21.5" font-family="Liberation Serif, serif" textLength="164" lengthAdjust="spacingAndGlyphs">N<tspan font-size="15" dy="-10">2</tspan><tspan dy="10">LO E1 (1.0 fm)</tspan></text>
<path d="M150.70,476.8 H183.50" stroke="#f00" stroke-width="5.5"/>
<text x="196.3" y="486.1" font-size="21.5" font-family="Liberation Serif, serif" textLength="164" lengthAdjust="spacingAndGlyphs">N<tspan font-size="15" dy="-10">2</tspan><tspan dy="10">LO E1 (1.2 fm)</tspan></text>
<path d="M150.70,518.70 H183.50 M151.70,515.20 v7 M182.50,515.20 v7" stroke="#008000" stroke-width="2.2" fill="none"/>
<path d="M167.10,510.40 L169.60,514.37 L174.29,514.55 L172.10,518.70 L174.29,522.85 L169.60,523.03 L167.10,527.00 L164.60,523.03 L159.91,522.85 L162.10,518.70 L159.91,514.55 L164.60,514.37 Z" fill="#008000"/>
<text x="196.30" y="526.00" font-size="21.50" text-anchor="start" font-family="Liberation Serif, serif" textLength="34.8" lengthAdjust="spacingAndGlyphs">Exp</text>
</svg>
</body></html>
